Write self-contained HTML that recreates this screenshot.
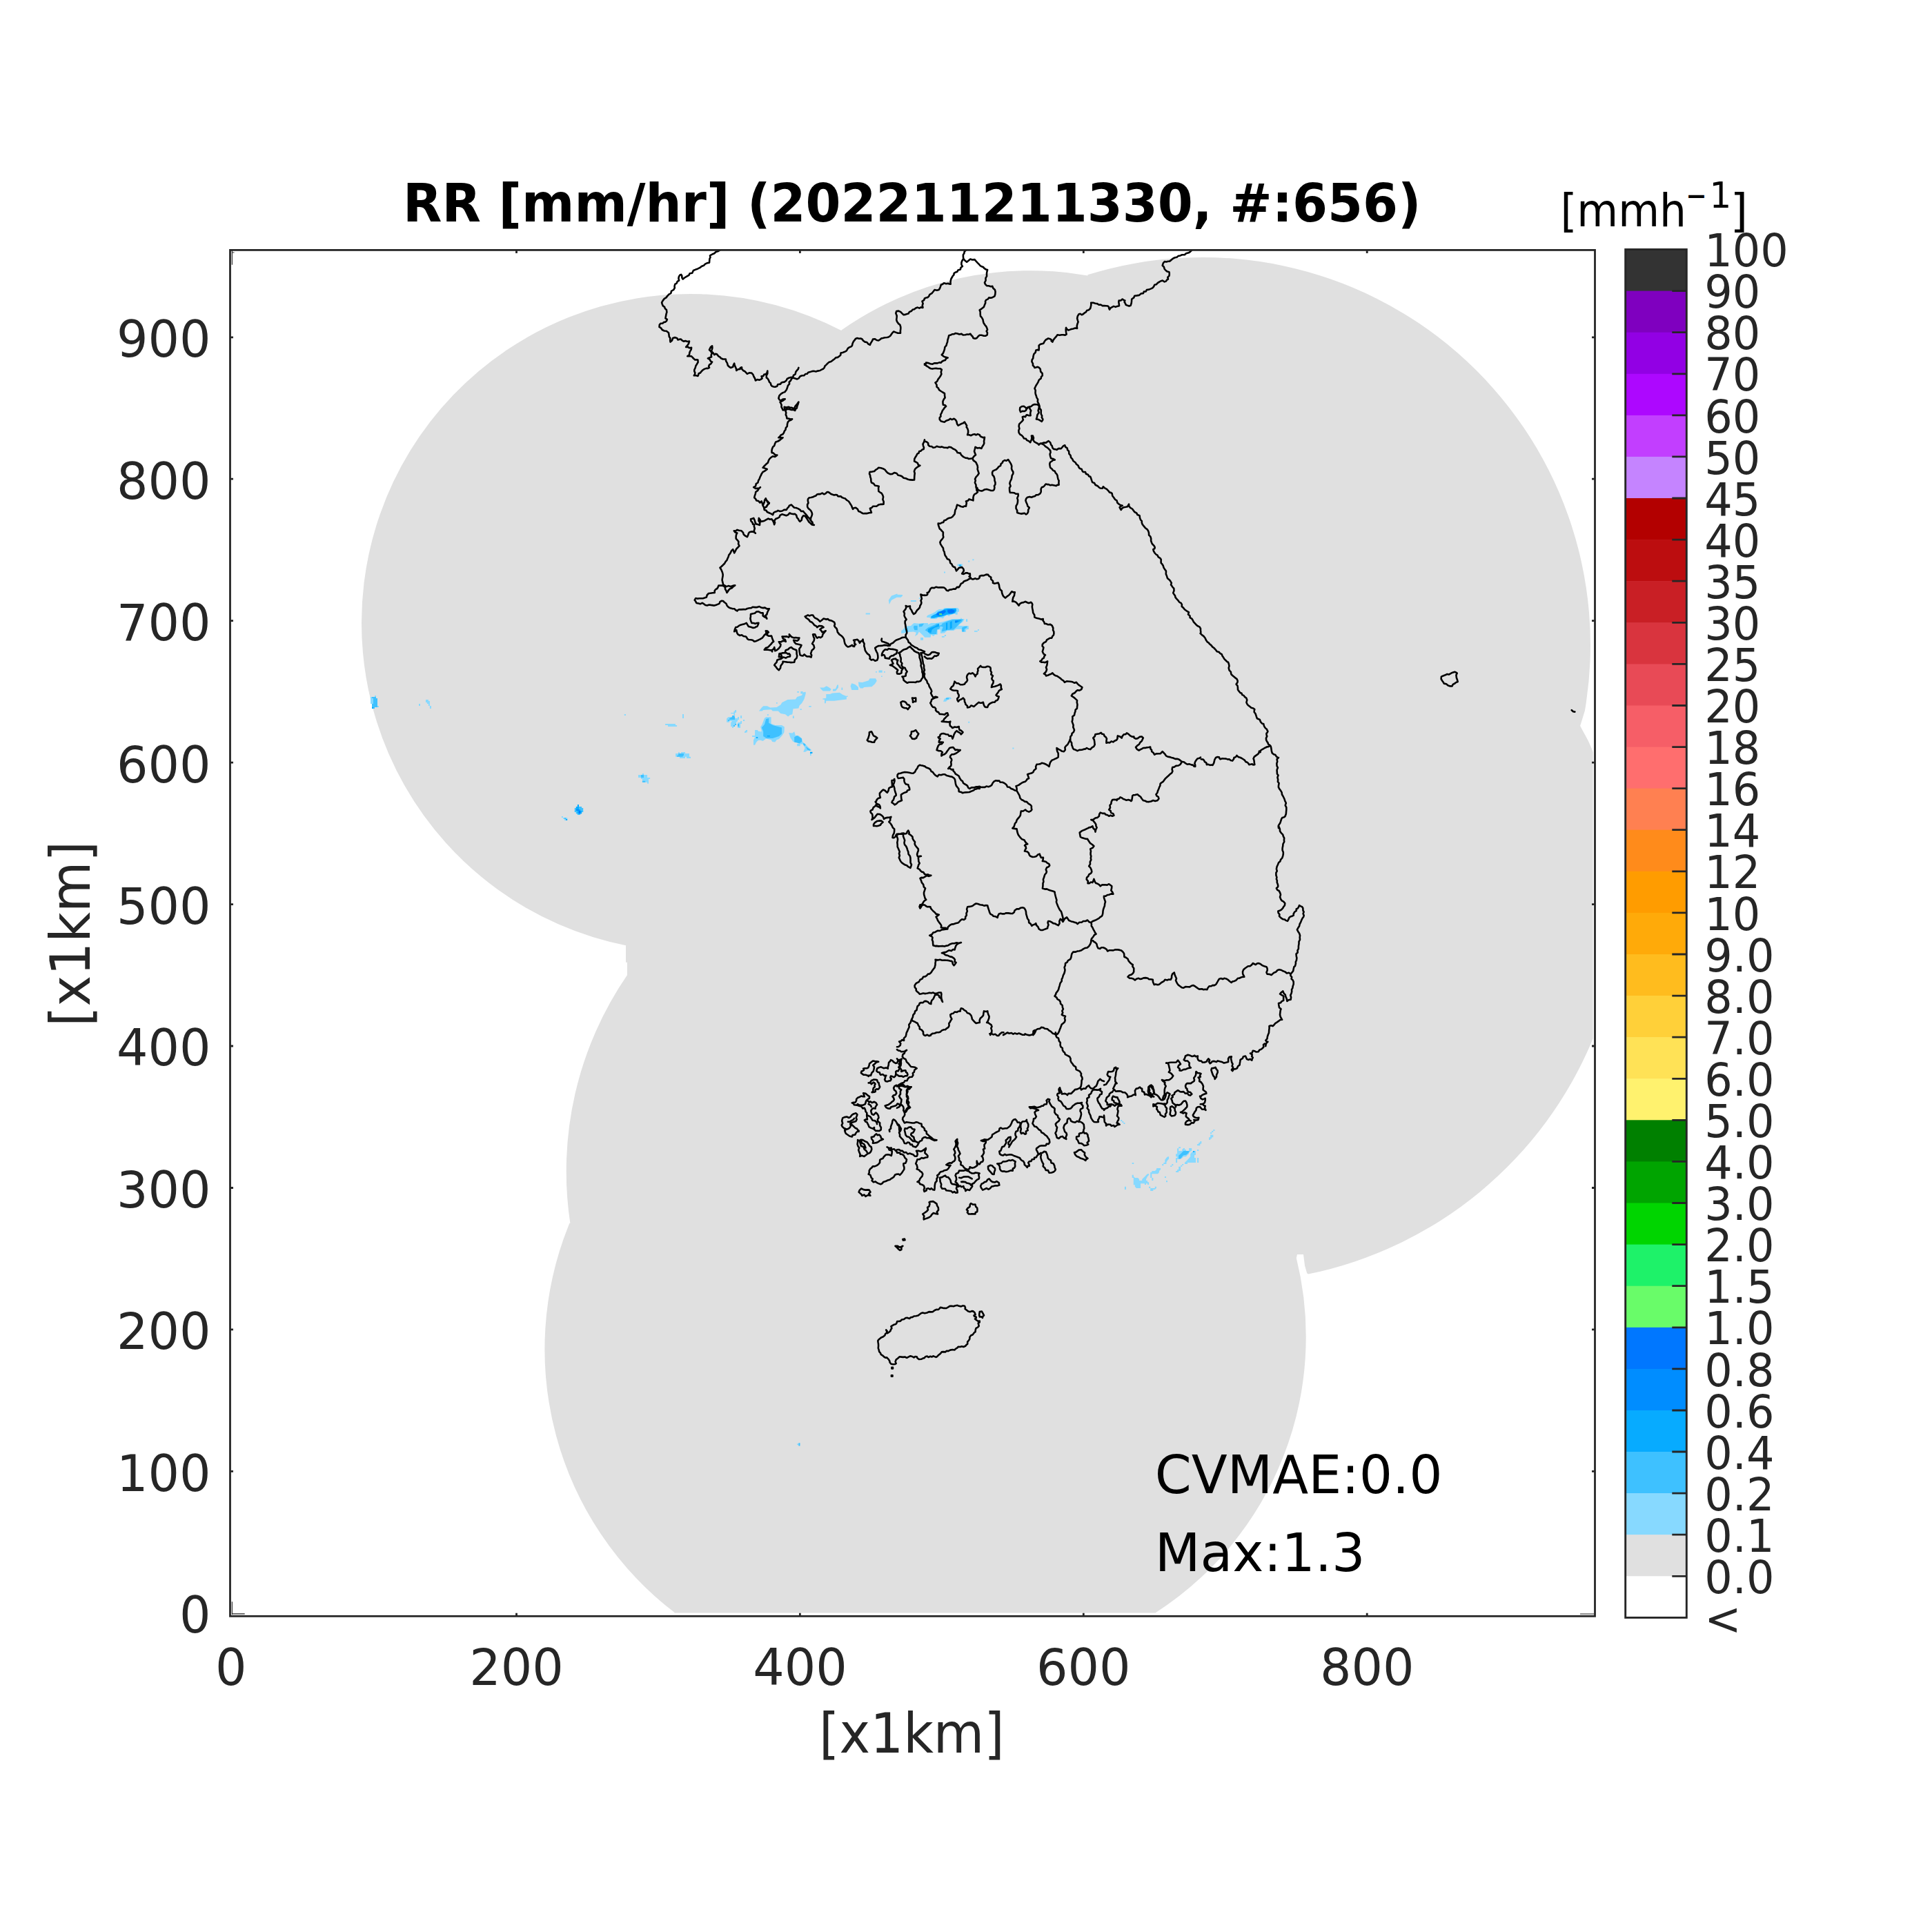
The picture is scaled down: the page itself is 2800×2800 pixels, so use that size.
<!DOCTYPE html>
<html lang="en"><head><meta charset="utf-8"><title>RR [mm/hr]</title>
<style>html,body{margin:0;padding:0;background:#fff}svg{display:block}</style></head>
<body>
<svg xmlns="http://www.w3.org/2000/svg" width="2800" height="2800" viewBox="0 0 2800 2800" font-family="'DejaVu Sans','Liberation Sans',sans-serif">
<path d="M907.2 1370.3A476.8 476.8 0 0 1 586.6 1139A476.8 476.8 0 0 1 550.8 745.2A476.8 476.8 0 0 1 824.4 459.8A476.8 476.8 0 0 1 1219.3 479L1220.1 478A477.4 477.4 0 0 1 1576.8 399.5L1576.2 398.3A562 562 0 0 1 2113.4 512.3A562 562 0 0 1 2296.9 1030L2290.1 1052Q2294 1059.5 2298.9 1068.2T2308.7 1089.9V1505.4L2308.6 1505.4A570 570 0 0 1 1896 1846.5L1894.2 1845.2 1891 1834.3 1889 1818H1880L1878.9 1822.7L1878.7 1822.7A475.9 475.9 0 0 1 1859.1 2113.1A475.9 475.9 0 0 1 1674.1 2337.7L1674 2337.6H977.2L977.6 2337.1A481.1 481.1 0 0 1 806 2080.7A481.1 481.1 0 0 1 825.4 1772.8L826.4 1772.9A503 503 0 0 1 909.1 1412.9L909 1412.9V1394.7H907V1371.3Z" fill="#e0e0e0"/>
<path d="M1343.1 893.3L1344.9 891.4 1350.7 889.3 1355.1 887.1 1357.2 884.9 1360.9 883.1 1366.7 882.8 1368.8 880.9 1374.6 880.9 1376.8 881.3 1387.7 880.9 1389.9 882.8 1389.9 886.4 1387.7 887.1 1387.7 890.7 1385.5 890.7 1383.3 889.3 1376.8 891.4 1375.4 892.9 1372.5 891.4 1368.8 893.6 1366.7 896.5 1365.2 895.8 1359.4 895.1 1357.2 896.9 1349.3 896.9 1347.1 895.1 1343.1 894.7ZM1306.2 913.9L1308.7 912.5 1313 907.4 1320.3 907 1321.7 905.2 1324.6 903 1331.9 903.8 1336.2 903 1344.9 903 1344.9 905.2 1349.3 903 1356.5 903 1365.2 901.6 1373.9 899.1 1379.7 897.2 1392 896.9 1392.8 895.1 1394.2 896.9 1397.8 897.2 1395.7 900.9 1392 903.8 1389.1 906.7 1396.4 907 1403.6 907 1404 911.7 1400 912.5 1400 915.7 1394.2 915.7 1393.5 911.7 1385.5 911.7 1381.9 913.9 1372.5 913.9 1368.8 917.5 1363 917.9 1363 912.5 1358.7 912.5 1358.7 919.7 1355.1 919.7 1352.9 921.9 1349.3 919.7 1348.6 923.7 1340.2 923.7 1338 921.2 1334.1 917.5 1331.9 915.4 1329.7 919.7 1326.1 921.9 1327.9 916.8 1323.9 915.4 1316.7 916.1 1310.1 917.5 1306.2 917.9ZM1300 860.3L1300.7 861.7 1308 862.1 1308 863.6 1305.8 865.7 1300 865.7ZM1319.9 870.1L1327.9 870.1 1327.9 871.9 1319.9 871.9ZM1331.9 866.1L1333.7 866.1 1333.7 867.9 1331.9 867.9ZM1334.1 924.1L1338 924.1 1338 927.7 1334.1 927.7ZM1400 897.2L1402.2 897.2 1402.2 900.9 1400 900.9ZM1412 913.9L1416.7 913.9 1416.7 915.7 1412 915.7ZM1417 912.1L1418.8 912.1 1418.8 913.9 1417 913.9ZM1364.9 921.9L1368.8 921.9 1368.8 923.7 1364.9 923.7ZM1368.8 920.1L1371 920.1 1371 921.9 1368.8 921.9ZM1287.8 869.7L1292 863.5 1300.2 860.4 1300.2 865.6 1292 869.7 1288.8 876ZM1254.7 888.4L1260.9 888.4 1260.9 890.4 1254.7 890.4ZM1387.6 817.6L1394.9 817.6 1394.9 820.5 1387.6 820.5ZM1403.2 812.4L1405.3 812.4 1405.3 814.4 1403.2 814.4ZM1409.4 810.3L1411.4 810.3 1411.4 812.3 1409.4 812.3ZM1368 828.4L1370 828.4 1370 830.4 1368 830.4ZM1366.9 1016.7L1369 1012.6 1373.1 1010.5 1377.2 1010.5 1379.3 1012.6 1373.1 1014.6 1371 1016.7ZM1467.4 1083.6L1469.4 1083.6 1469.4 1085.6 1467.4 1085.6ZM1403.2 1045.7L1405.2 1045.7 1405.2 1047.7 1403.2 1047.7ZM1155.3 2092.3L1157.4 2092.3 1157.4 2094.3 1155.3 2094.3ZM1099.9 1030.6L1103.9 1025.5 1106.2 1023.2 1111.9 1023.2 1116.4 1025.5 1125.6 1024.9 1131.3 1021.5 1133.5 1018.1 1141.5 1014.1 1152.9 1013.5 1155.2 1010.1 1162 1007.8 1164.3 1003.3 1167.7 1002.7 1167.7 1005.6 1165.4 1013.5 1162 1019.2 1158.6 1022.6 1157.4 1026.6 1149.5 1027.2 1148.3 1035.2 1144.9 1036.3 1142.1 1038.6 1138.1 1035.2 1131.3 1034 1127.8 1030.6 1119.9 1030.6 1117.6 1028.3 1106.2 1028.9 1104.5 1030.6ZM1188.2 996.4L1193.9 996.4 1197.9 994.2 1201.9 996.4 1204.7 998.7 1203 1001.6 1192.8 1001.6 1189.9 998.7ZM1207 998.7L1211 998.2 1213.3 992.5 1215 992.5 1215 996.4 1211 1001.6 1207 1001.6ZM1192.2 1012.4L1197.3 1011.8 1197.3 1006.1 1203 1006.1 1206.4 1004.4 1216.7 1003.8 1221.2 1006.7 1226.9 1009 1226.9 1013.5 1208.7 1015.8 1197.3 1015.8 1196.7 1019.2 1195 1019.2 1195 1014.1 1192.2 1013.5ZM1232.6 994.2L1234.3 990.2 1239.5 991.9 1244 995.9 1244 999.9 1234.3 999.9ZM1244 988.5L1249.7 989 1258.8 986.2 1260.5 983.3 1269.1 983.3 1270.8 986.8 1267.9 991.3 1263.4 995.3 1252 995.9 1250.8 997.6 1246.9 997.6 1244.6 994.2ZM1273.6 971.4L1278.7 971.4 1278.7 974.8 1273.6 974.8ZM1269.1 973.1L1270.8 973.1 1270.8 974.8 1269.1 974.8ZM1281 973.1L1282.7 973.1 1282.7 974.8 1281 974.8ZM1277 979.4L1278.7 979.4 1278.7 981.1 1277 981.1ZM1172.3 1023L1175.7 1023 1175.7 1024.7 1172.3 1024.7ZM1159.7 1027.2L1161.8 1027.2 1161.8 1028.9 1159.7 1028.9ZM1125 1018.1L1126.7 1018.1 1126.7 1019.8 1125 1019.8ZM1111.9 1035.2L1113.9 1035.2 1113.9 1036.9 1111.9 1036.9ZM1148.9 1037.4L1150.8 1037.4 1150.8 1040.9 1148.9 1040.9ZM1219.5 996.4L1221.2 996.4 1221.2 999.9 1219.5 999.9ZM1226.9 1008.4L1228.6 1008.4 1228.6 1009.9 1226.9 1009.9ZM1155.2 1002.1L1158 1002.1 1158 1003.8 1155.2 1003.8ZM1160.3 1002.1L1163.7 1002.1 1163.7 1005.6 1160.3 1005.6ZM1090.3 1066.5L1094.2 1065.9 1094.2 1058.5 1097.7 1057.9 1100.5 1061.4 1103.9 1059.7 1102.2 1053.4 1104.5 1050 1107.9 1040.9 1110.2 1039.2 1117.6 1039.2 1117.6 1048.8 1123.3 1051.1 1133 1051.1 1136.9 1053.4 1136.4 1061.4 1133.5 1065.9 1129 1071 1125.6 1072.2 1123.3 1075.6 1119.3 1075 1117.6 1072.2 1110.2 1070.5 1105.6 1073.9 1102.2 1072.8 1097.1 1072.8 1094.2 1075 1093.7 1079.6 1092 1079.6 1092 1072.8 1094.2 1068.2 1090.3 1067.6ZM1143.2 1061.9L1148.3 1062.5 1151.2 1060.2 1152.9 1065.9 1157.4 1065.9 1162 1069.9 1163.7 1076.2 1167.7 1079 1171.1 1082.4 1175.7 1086.4 1175.7 1088.1 1170 1088.1 1167.1 1089.8 1164.3 1089.8 1166.6 1084.1 1163.7 1078.5 1158.6 1078.5 1155.2 1076.2 1149.5 1075 1145.5 1069.3ZM1155.2 1077.9L1159.7 1077.9 1159.7 1081.3 1155.2 1081.3ZM1174 1092.1L1175.7 1092.1 1175.7 1095 1174 1095ZM1080 1059.1L1082.8 1059.1 1082.8 1061.4 1080 1061.4ZM904.8 1035L907 1035 907 1037 904.8 1037ZM989 1035L991 1035 991 1041 989 1041ZM964.1 1049L978.9 1049 978.9 1050.9 981.1 1050.9 981.1 1053 968 1053 968 1050.9 964.1 1050.9ZM1053.1 1041.6L1055.4 1039.3 1061.1 1038.7 1063.4 1037 1063.4 1034.2 1059.2 1034.2 1059.2 1033 1063.4 1033 1063.4 1030.8 1065.1 1030.8 1065.1 1029 1067.1 1029 1067.1 1032.5 1065.1 1033 1065.1 1041 1069.1 1041 1069.1 1039 1071.1 1039 1071.1 1043.1 1069.1 1043.1 1069.1 1045 1067.1 1046.7 1067.1 1049 1065.1 1051.3 1063.4 1053 1062.8 1054.9 1061.1 1054.9 1061.1 1053 1059.2 1053 1059.2 1047.3 1061.1 1045 1057.1 1045 1057.1 1046.7 1053.1 1046.7ZM1069.1 1047.3L1073.1 1046.9 1073.1 1045 1075.1 1045 1075.1 1049 1073.1 1049 1073.1 1054.9 1069.1 1054.9ZM1073.1 1037L1075.1 1037 1075.1 1041 1073.1 1041ZM1077 1043.1L1079.1 1043.1 1079.1 1045 1077 1045ZM1079.1 1060.1L1081 1060.1 1081 1062.1 1079.1 1062.1ZM1081 1058.1L1083.1 1058.1 1083.1 1060.1 1081 1060.1ZM1090.1 1066.1L1094.1 1066.1 1094.1 1058.1 1098.1 1058.1 1098.1 1060.1 1102.1 1060.1 1102.1 1071.8 1098.1 1073.5 1096.1 1075.7 1094.1 1079.7 1092.1 1079.7 1092.1 1071.8 1094.1 1071.8 1094.1 1068 1090.1 1068ZM979.1 1092L983.1 1092 983.1 1090 984.8 1090 984.8 1091.7 987.1 1091.7 987.1 1090 993 1090 993 1092 999 1092 999 1096.8 1001 1096.8 1001 1098.9 995 1098.9 995 1096.8 993 1096.8 993 1098.9 985 1098.9 985 1096.8 979.1 1096.8ZM925 1123L930.9 1123 930.9 1121 933 1121 933 1123 938.1 1123 938.1 1127 942.1 1127 942.1 1128.9 940 1128.9 940 1135.8 938.1 1135.8 938.1 1133.8 930.9 1133.8 930.9 1128.9 929 1128.9 929 1127 925 1127ZM832.8 1175L834.9 1175 834.9 1177.1 832.8 1177.1ZM843.1 1175L845.2 1175 845.2 1177.1 843.1 1177.1ZM834.9 1177.1L836.9 1177.1 836.9 1179.2 834.9 1179.2ZM813.9 1182.9L816 1182.9 816 1184.9 813.9 1184.9ZM816 1185L818 1185 818 1186.9 816 1186.9ZM820.1 1185L822.2 1185 822.2 1186.9 820.1 1186.9ZM818 1186.9L820.1 1186.9 820.1 1189 818 1189ZM537 1010.1L541 1010.1 541 1019.9 537 1019.9ZM543 1008.1L545 1008.1 545 1010.1 543 1010.1ZM547 1023L549 1023 549 1024.9 547 1024.9ZM541 1024.9L543 1024.9 543 1027 541 1027ZM617 1013.9L620.9 1013.9 620.9 1015.9 622.9 1015.9 622.9 1023 620.9 1023 620.9 1019.9 618.9 1019.9 618.9 1017.9 617 1017.9ZM622.9 1023L624.9 1023 624.9 1027 622.9 1027ZM607 1019.9L609 1019.9 609 1023 607 1023ZM1640.7 1702.8L1642.8 1702.8 1642.8 1704.9 1644.8 1707 1649 1707 1651.1 1709 1651.1 1711.1 1655.2 1711.1 1655.2 1709 1659.3 1704.9 1661.4 1702.8 1663.1 1701.2 1665.1 1701.2 1665.1 1702.8 1663.1 1704.9 1661 1709 1661 1711.1 1663.1 1711.1 1663.1 1713.2 1665.1 1713.2 1665.1 1716.9 1663.1 1716.9 1663.1 1715.2 1661 1715.2 1661 1716.9 1658.9 1716.9 1658.9 1715.2 1653.1 1715.2 1653.1 1721.9 1646.9 1721.9 1644.8 1719.8 1644.8 1717.3 1642.8 1717.3 1642.8 1707 1640.7 1707ZM1667.2 1699.1L1669.3 1699.1 1669.3 1697 1673.8 1697 1675.9 1694.9 1676.3 1692.9 1682.1 1692.9 1682.1 1694.9 1680 1697 1680 1699.1 1678 1701.2 1669.3 1701.2 1669.3 1707 1667.2 1707ZM1669.3 1707L1671.3 1707 1671.3 1711.1 1669.3 1711.1ZM1684.2 1687.1L1686.3 1687.1 1686.3 1685 1688.3 1685 1688.3 1680.9 1690.4 1678 1692.5 1676.3 1694.1 1676.3 1694.1 1679.6 1692 1681.7 1690.4 1684.6 1690.4 1687.1 1686.3 1687.1 1686.3 1689.2 1684.2 1689.2ZM1704.1 1672.2L1706.1 1672.2 1706.1 1664.3 1708.2 1664.3 1708.2 1662.2 1711.1 1662.2 1711.1 1663.9 1708.2 1664.3 1708.2 1668 1713.2 1668 1713.2 1666 1715.2 1663.9 1716.9 1663.9 1716.9 1666 1719 1666 1719 1668 1723.1 1668 1723.1 1663.9 1727.2 1663.9 1727.2 1668 1725.2 1668 1725.2 1670.1 1723.1 1670.1 1723.1 1672.2 1721 1673.8 1719 1676.3 1715.2 1676.3 1713.2 1678.4 1708.2 1680 1706.1 1680 1706.1 1685 1704.1 1685 1704.1 1678 1706.1 1678 1706.1 1676.3 1704.1 1676.3ZM1716.9 1685L1719 1682.9 1721 1680.9 1723.1 1678.8 1725.2 1676.3 1725.2 1672.2 1727.2 1670.1 1729.3 1668 1733 1668 1733 1673.8 1731 1674.2 1731 1678 1733 1678 1733 1685 1721 1685 1721 1687.1 1716.9 1687.1ZM1735.1 1678L1737.2 1678 1737.2 1685 1735.1 1685ZM1704.1 1697L1706.1 1697 1706.1 1694.9 1708.2 1694.9 1708.2 1690.8 1711.1 1690.8 1711.1 1697 1708.2 1697 1708.2 1699.1 1704.1 1699.1ZM1711.1 1688.7L1713.2 1688.7 1713.2 1690.8 1711.1 1690.8ZM1713.2 1687.1L1715.2 1687.1 1715.2 1688.7 1713.2 1688.7ZM1696.2 1689.2L1698.3 1689.2 1698.3 1691.1 1696.2 1691.1ZM1698.3 1687.1L1700.3 1687.1 1700.3 1689.2 1698.3 1689.2ZM1735.1 1658.1L1737.2 1658.1 1737.2 1656 1739.3 1656 1739.3 1654 1741.3 1654 1741.3 1657.3 1739.3 1658.1 1739.3 1660.2 1735.1 1660.2ZM1752.1 1648.2L1754.2 1648.2 1754.2 1644.8 1758.3 1644.8 1758.3 1648.2 1756.2 1648.2 1756.2 1650.2 1754.2 1650.2 1754.2 1651.9 1752.1 1651.9ZM1754.2 1641.1L1756.2 1641.1 1756.2 1643.2 1754.2 1643.2ZM1756.2 1639L1758.3 1639 1758.3 1641.1 1756.2 1641.1ZM1758.3 1637L1760.4 1637 1760.4 1639 1758.3 1639ZM1735.1 1666L1737.2 1666 1737.2 1668 1735.1 1668ZM1640.7 1685L1643.2 1685 1643.2 1687.1 1640.7 1687.1ZM1629.9 1719.8L1632 1719.8 1632 1723.9 1629.9 1723.9ZM1665.1 1719.8L1667.2 1719.8 1667.2 1721.9 1665.1 1721.9ZM1667.2 1721.9L1673.8 1721.9 1673.8 1719.8 1675.9 1719.8 1675.9 1721.9 1673.8 1723.9 1671.3 1723.9 1671.3 1726 1667.2 1726ZM1687.9 1704.9L1690 1704.9 1690 1707 1687.9 1707ZM1690 1711.1L1692 1711.1 1692 1713.2 1690 1713.2ZM1624.1 1622.9L1626.2 1622.9 1626.2 1625 1624.1 1625ZM1626.2 1625L1628.3 1625 1628.3 1627 1626.2 1627ZM1628.3 1627L1630.4 1627 1630.4 1629.1 1628.3 1629.1Z" fill="#87d9ff"/>
<path d="M1365.2 903.8L1373.9 900.1 1380.4 898 1395.7 897.6 1393.5 901.6 1389.9 904.5 1385.5 909.6 1381.9 912.5 1372.5 913.2 1365.2 915.4 1365.2 912.5 1366.7 908.8 1363 907.4 1360.9 911.7 1358 912.5 1357.2 919 1347.8 919 1344.9 916.1 1340.6 913.2 1344.9 909.6 1350 907.4 1355.1 905.2 1357.2 903.8 1360.9 903.8 1361.6 906.7 1365.2 905.2ZM1323.9 909.6L1324.6 906.7 1329.7 906.7 1329.7 913.2 1325.4 913.2ZM1331.9 904.5L1339.1 903.8 1336.2 908.1 1331.9 908.5ZM1394.2 909.6L1397.8 908.1 1401.4 907.4 1401.4 909.6 1397.8 911.7 1397.8 915.4 1394.2 915.4ZM1311.6 911.7L1315.6 909.6 1315.6 916.1 1312 915.4ZM1371 1011.5L1375 1011.5 1375 1013.6 1371 1013.6ZM1157.4 2091.3L1159.5 2091.3 1159.5 2095.4 1157.4 2095.4ZM1103.9 1054.5L1107.9 1050 1110.2 1042 1114.2 1040.9 1114.2 1047.7 1119.9 1051.1 1133 1054.5 1133 1063.6 1129 1067.1 1119.9 1069.9 1110.8 1069.9 1106.2 1067.1 1106.2 1060.2ZM1151.2 1068.2L1155.2 1065.9 1162 1070.5 1162 1075 1158.6 1077.3 1151.2 1075.6ZM1164.3 1076.2L1167.7 1079 1166.6 1081.3 1164.3 1079.6ZM1167.7 1081.9L1174.5 1086.4 1174 1088.1 1170 1086.4ZM1057.1 1041L1061.1 1039.3 1061.1 1037 1063.4 1037 1065.1 1039.3 1065.1 1043.1 1057.1 1043.1ZM1055.1 1043.1L1057.1 1043.1 1057.1 1045 1055.1 1045ZM1065.1 1049L1067.1 1049 1067.1 1050.9 1065.1 1050.9ZM1063 1050.9L1065.1 1050.9 1065.1 1053 1063 1053ZM1069.1 1049L1071.1 1049 1071.1 1053 1069.1 1053ZM1096.1 1068L1098.1 1068 1098.1 1070 1096.1 1070ZM983.1 1092L991 1092 991 1094.5 989.1 1096.8 981.1 1096.8 981.1 1095.1 983.1 1094.5ZM929 1123L933 1123 933 1127 929 1127ZM930.9 1131.8L935.2 1131.8 935.2 1133.8 930.9 1133.8ZM836.9 1166L839 1166 839 1169.1 843.1 1169.1 843.1 1171.1 845.2 1171.1 845.2 1177.1 843.1 1177.1 843.1 1179.2 841.1 1179.2 841.1 1181 836.9 1181 836.9 1179.2 834.9 1179.2 834.9 1177.1 832.8 1177.1 832.8 1171.1 834.9 1171.1 834.9 1169.1 836.9 1169.1ZM818 1185L820.1 1185 820.1 1186.9 818 1186.9ZM539 1010.1L545 1010.1 545 1011.9 547 1011.9 547 1024.9 543 1024.9 543 1027 539 1027 539 1019.9 541 1019.9 541 1011.9 539 1011.9ZM1708.2 1674.7L1711.1 1672.2 1713.2 1670.1 1715.2 1668 1723.1 1668 1723.1 1670.1 1721 1672.2 1719 1673.8 1715.2 1674.2 1713.2 1676.3 1711.1 1679.6 1708.2 1679.6Z" fill="#3ec1ff"/>
<path d="M1349.3 893.6L1352.2 891.4 1357.2 889.3 1359.4 886.4 1365.2 884.9 1368.8 882.8 1372.5 882 1385.5 881.7 1386.2 884.9 1384.1 888.6 1379.7 890 1372.5 890.7 1368.8 892.2 1365.2 893.6 1359.4 894.3 1353.6 895.8 1349.3 895.8ZM1344.9 911.7L1349.3 909.6 1355.1 907.4 1360.9 903.8 1360.9 908.1 1355.1 909.6 1350.7 912.5 1349.3 917.5 1344.9 916.1ZM1371 903L1373.2 902.3 1373.2 911.7 1371 913.2ZM1376.8 901.6L1379.7 900.1 1379.7 910.3 1376.8 911.7ZM1384.1 899.4L1393.5 898 1389.9 901.6 1384.1 903ZM1390 818.5L1393 818.5 1393 820.5 1390 820.5ZM1174 1089.8L1177.4 1089.8 1177.4 1092.1 1174 1092.1ZM1111.9 1065.9L1115.9 1065.9 1115.9 1067.6 1111.9 1067.6ZM1095.9 1068.2L1098.2 1068.2 1098.2 1069.9 1095.9 1069.9ZM836.9 1166L839 1166 839 1173 841.1 1173 841.1 1175 843.1 1175 843.1 1179.2 836.9 1179.2 836.9 1175 834.9 1175 834.9 1169.1 836.9 1169.1ZM820.1 1186.9L822.2 1186.9 822.2 1189 820.1 1189ZM539 1024.9L541 1024.9 541 1027 539 1027ZM1729.3 1668L1731 1668 1731 1670.1 1729.3 1670.1Z" fill="#07abff"/>
<path d="M1384.1 899.4L1389.1 899.1 1387 902.3 1384.1 902.3ZM834.9 1173L839 1173 839 1175 834.9 1175Z" fill="#008dff"/>
<path d="M1357.2 889.3L1361.6 887.1 1365.2 885.3 1369.6 884.2 1371 886.4 1368.1 889.3 1365.2 890.7 1360.9 892.2 1357.2 891.4ZM1373.2 883.5L1379.7 883.1 1384.1 884.9 1381.9 888.2 1375.4 888.9 1373.2 887.1ZM839 1175L841.1 1175 841.1 1179.2 839 1179.2Z" fill="#0077ff"/>
<path d="M1361.1 889.1L1365 889.1 1365 890.9 1361.1 890.9Z" fill="#69fc69"/>
<path d="M1043.5 362.5L1041.1 364 1037.6 365 1035.2 367.3 1032.2 368.5 1029 370.4 1029.5 372.9 1028.4 375.2 1028.2 378 1028 380.7 1025.1 381.1 1022 382.6 1019.9 384.8 1016.8 385.9 1014.5 387.9 1010.9 389.7 1008.3 390.6 1004.9 392 1003.2 395.7 999.7 396.2 998.4 398.8 994.8 400.9 992.1 402.5 989.7 404.5 988.4 402.5 988.3 399.6 987.2 397.9 985.5 398.5 984.1 400.4 983.4 403.2 984.1 406.6 981.7 407.9 980.6 410.6 978.3 411.8 977.5 415 977.9 417.2 976.2 420 973 421.9 972.3 425 969.4 426.7 966.9 429.4 965.4 431.4 962.8 432.9 960.7 435.6 959.1 438.4 959.7 440.7 960.9 443.4 963.1 444.9 963.9 447.3 965.9 449 966.4 452.4 965.5 455.4 964.9 458.8 964.4 461.4 966.9 462.9 966 465.3 964.4 466.6 962 467 960.4 468.7 957.6 468.7 955.8 470.7 955.5 473.9 957.9 475.3 959.7 478 962.8 479.5 965.8 479.7 969 482.2 969.4 484.5 969.8 487.9 971.3 490.1 971.2 493.2 971.5 495.6 974 493.4 975.2 490 977.6 489.1 979.3 489.4 981.4 490.2 982.4 492.5 984.2 491.9 986.6 491.5 988.5 493.3 990.7 494.6 993.4 494.1 996.1 495 999 494.6 998.2 497.7 996.3 500.5 994.2 502.9 996.6 502.6 999.2 504.3 1002.1 503.9 1001.7 506.6 1000.1 509.1 999.3 511.3 999 514.2 996.3 516.3 999.1 516.2 1002.1 516.3 1003.9 518.1 1005.1 519.6 1007.3 521.5 1009.6 521.2 1011.4 521.5 1011.6 525 1010 527.7 1008.4 530.2 1007.7 533 1006.3 536 1006.3 538.1 1007.3 540.1 1007.2 541.9 1005.8 544.3 1009.1 544.3 1011.4 544.9 1012.3 543 1012.5 541.2 1014.7 540.6 1016.5 538.4 1018.3 536.5 1020.7 534.9 1023.5 533.9 1026 533.9 1028 532.9 1027.1 531 1028 528.7 1030.1 527.4 1032.1 524.6 1030 523.6 1028.6 520.8 1025.9 519.4 1028 518.4 1031.1 517.3 1030.6 514.7 1031.7 512.2 1030.4 509.4 1028 507 1028.8 505.3 1029.9 503.1 1032.1 501.4 1032.4 504.1 1031.7 507 1031.1 509.1 1033.7 511.7 1035.2 514.2 1036.9 512.9 1039 513.2 1040.2 514.9 1041.4 516.3 1043.6 517.6 1045 519.3 1047.7 520.5 1049.8 520.5 1051.8 520.5 1052.2 523.4 1053.9 526.2 1054.9 529.8 1057.1 531.8 1059 532.9 1062.2 531.8 1063 528.9 1064.2 526.7 1064.6 528.9 1065.7 531.4 1067 534.6 1067.3 537 1069.7 535.3 1072.5 534.9 1072.8 533.3 1075 532.3 1075 534.6 1077.1 537 1079.7 538.4 1080.9 539.7 1082.9 541.8 1085.8 540.4 1089.1 540.5 1091.2 542.6 1092.6 546 1094.1 548.5 1094.9 551.5 1097.6 550.1 1100.4 550.8 1102.5 549.9 1104.6 548.4 1103.6 545.3 1106.1 545 1107.6 542.5 1109.8 542.2 1111.4 540.7 1112.3 537.6 1112.3 541.3 1110.8 544.1 1110.8 547.4 1112.7 548.8 1114.3 551.6 1114.9 553.6 1116.7 555.2 1117.5 558.1 1119.1 559.8 1121.3 560.5 1123.2 560.8 1126.3 559.7 1127.1 557.3 1131 556.6 1132.5 554.6 1134.5 553.9 1136.7 553.6 1139.3 551.8 1140.8 549 1143.9 547.4 1146.6 546.8 1149.1 547M1149.1 547L1150 543.8 1152.6 542.3 1153.3 539.1 1154.8 537 1156.6 535.2 1157.4 532.9M1149.1 547.4L1152.4 548.5 1155.3 549.4 1157.4 548.4 1159.7 545.3 1162.6 544.3 1165.4 544.1 1167.3 542 1169.8 541.8 1171.3 539.7 1174 539.1 1176.8 538.1 1179.3 537.8 1182.5 538.5 1185.1 537.6 1188.4 537 1190.8 535.6 1192.8 534.8 1194.7 532.9 1195.5 530.5 1197 529.1 1198.8 527.3 1201.2 525.1 1204.4 524.1 1207.1 521.9 1209.5 520.2 1211.2 518.4 1214.1 517.9 1216.4 516.3 1218.3 514.3 1218.5 511.6 1221.2 510.9 1223.6 510.1 1226.2 508.9 1227.4 507.5 1228.8 504.9 1231 503.3 1233.5 502.4 1235 500.8 1235.6 497.7 1237.1 494.6 1238.6 493 1239.9 491 1242.3 490 1244.9 490.8 1247.3 490.5 1249.5 491.5 1251 493.7 1253.7 495.6 1256.3 496 1258.7 498.9 1260.9 499.8 1261.7 497.7 1263 495.6 1264.2 493.8 1265.1 491.5 1267.8 491.2 1270.5 493 1273.3 493.5 1275.2 492.2 1277.3 490.4 1279.5 490 1282.4 489.2 1285.5 489 1287.8 488.4 1290.1 487 1292 484.2 1293.1 482.7 1295.1 480.5 1298 481.6 1301.2 482.8 1305 482.6 1304.9 479.6 1305.3 476.5 1305.3 473.9 1304.4 470.8 1302.2 469.1 1300.1 466.3 1299.2 463.5 1299.6 460.2 1299.8 457.7 1298.3 454 1299.2 451.1 1302.3 450.6 1305.4 452.1 1307.5 454.4 1309.6 456.3 1312.1 455.9 1313.7 455.2 1316.5 454.6 1317.9 452.1 1321 450.7 1322.6 448.7 1325 448.3 1327.2 446.5 1329.9 445.6 1332.4 446.6 1334.6 445.4 1337.5 445.9 1336.7 442.5 1337.7 440.1 1336.5 436.6 1339.2 434.8 1340 432.5M1149.1 547.4L1147.2 548.9 1146 551.5 1143.7 553.7 1144.1 556.3 1141.9 558.8 1141 562 1139.8 565 1137.4 568.1 1134.6 569.1 1131.8 570.9 1129.4 573.3 1129 574.9 1128.4 577.4 1129.8 579.5 1131.5 580.5 1134.6 578.5 1137.7 578.4 1135.1 580.3 1133.3 581.3 1130.5 582.6 1131.7 584.7 1132.6 586.8 1132.5 589.8 1133.7 592.1 1134.6 594.4 1136.3 594.3 1138.8 594 1137 592.6 1136.7 589.8 1139.4 590.6 1142.9 589.8 1144.9 590.7 1147 590.8 1149.5 591.7 1151.2 591.9 1152.4 588.9 1154.3 586.7 1155.8 584.8 1157.4 582.6 1156.6 585.5 1155.3 588.8 1154.8 591.6 1153.1 592.5 1152.2 595 1150.1 593.9 1147 594 1144.6 593.3 1142.4 592.7 1139.8 592.9 1138.5 595.8 1139.3 598.1 1138.8 601.2 1139.9 603.3 1140.4 606.4 1143.3 606.8 1145.6 607.6 1148.1 607.4 1146.3 608.8 1143.5 609.8 1141.9 611.6 1141 614.7 1140.8 617.8 1138.9 620 1138.5 622.7 1136.7 625 1136.1 627.1 1134.6 629.2 1131.9 630.4 1130.4 632.4 1128.4 634.3 1131.1 634.3 1134.6 634.3 1132.2 636.1 1130 638 1127.4 639.5 1124.4 640.5 1123.2 642.6 1122.2 646 1120.1 647.8 1118.9 650.7 1118.5 652.9 1118.5 656.1 1120.8 656.5 1122.2 658.1 1123.7 659.3 1126.3 659.6 1123.2 661.9 1120 661.2 1117 663.3 1115.2 665.2 1113.9 667.4 1112.9 670.6 1111.1 672 1109.4 673.7 1107.5 675.5 1105.6 677.8 1108.4 678.6 1111.8 679.9 1110.2 681.3 1107.9 682.9 1105.6 684 1103.9 686.4 1102.7 689.1 1101.5 691.3 1100.7 693.8 1099.1 696.5 1098.4 699.5 1095.8 701.1 1095.1 704.5 1092.2 706.2 1095 707.9 1098.4 707.8 1100.3 707.6 1101.9 706.2 1099.8 708 1098.2 710.9 1095.3 713 1094.8 715.6 1093.8 718.6 1093.2 721.3 1095 722.9 1096.3 725.4 1099.1 726 1101.5 728.5 1103.6 726.5 1104.9 729.9 1105.6 732.7 1107.2 735.5 1107.7 738.9 1110.4 739.7 1111.8 742 1114.5 743.2 1117.3 744.4 1120.1 746.1 1121.2 743 1122.9 742 1125.9 741.1 1127.4 739.9 1130.3 741 1133.6 740.5 1136.7 738.7 1139.8 738.9 1141.1 736.7 1143 734.7 1143.9 732.7 1147 731.6 1149 733.7 1151.2 735.8 1153.8 736 1156.6 737.1 1159.5 738.9 1161.1 741 1164 740.8 1165.7 743 1167.7 745.2 1169.3 747.1 1170.8 749.2 1173.2 751.4 1175 754.4 1177.4 757 1178.1 760M1105.6 732.7L1106.7 729.9 1107.7 727.9 1108.2 724.9 1109.8 722.3 1110.2 724.5 1111.8 726.5 1113 728.6 1114.9 728.9 1113.2 730.7 1112 732.5 1110.8 734.7M1175 754.4L1175 750.8 1176.4 747.7 1177.1 745.1 1176.4 742.3 1175 739.9 1173.2 738.2 1171.5 736.9 1170.2 734.7 1170.1 731.3 1171.5 729 1170.8 725.4 1171 723.1 1172.9 721.3 1175.4 721 1178.3 720.3 1180.2 719.2 1182.5 718.4 1184.1 716.5 1186.4 716.1 1188.7 716.1 1191.6 714.6 1194.4 716.3 1196.7 715.1 1198.3 713.3 1199.8 713 1202 714 1204 715.7 1206.6 716.8 1209 717.6 1211.2 717.1 1213.1 717.2 1214.3 719.2 1216.1 719.4 1218.5 719.2 1220.4 721 1222.8 721.9 1224.7 722.3 1227.4 725 1229.9 726.5 1231.1 728.2 1232.8 731 1234 732.7 1234.8 735.2 1236.1 737.8 1237.5 736.3 1240.2 735.8 1243 738.1 1244.3 741 1246.5 741.7 1248.5 743 1251 744.3 1253.8 744 1256.8 744.1 1259.8 743.3 1263 743 1262 740.3 1260.9 736.8 1263.2 736 1265.1 733.8 1267.1 733.7 1270.3 733.7 1273.3 731.6 1276 730.9 1278.2 730.9 1280.6 730.6 1280.7 726.9 1279.4 723.9 1280.1 720.1 1279.1 717.1 1277.5 714.7 1275.8 713.8 1273.3 712 1273.2 709.3 1273.1 707.5 1273.7 704.7 1270.7 704 1268.2 703.7 1266 700.7 1263 699.5 1262.4 697.3 1262.2 693.6 1261.3 691.3 1261.1 688.8 1260 686.7 1260.5 684 1264.1 683.6 1267.1 683 1269.2 680.8 1271.4 679.6 1273.3 677.8 1276.8 678.3 1279.7 679.2 1282.7 680.9 1284.8 683.8 1286.7 685.5 1289.9 687.1 1293.2 686.9 1296.1 685.1 1299.5 686 1301.6 688.8 1304.4 689.2 1307 690.2 1309.7 692.8 1312.7 693.3 1315.9 694.7 1318.9 695.4 1322.3 695.6 1325.1 695.4 1325.2 691.9 1325.4 688.7 1325.8 686 1324.9 683.1 1326.1 679.9 1327.9 678.1 1330.5 676.3 1333.4 674.7 1331 673.9 1329.9 671.2 1327 669.4 1325.1 668.5 1325.3 665.2 1326.4 663 1328.2 660.2 1329.5 657.6 1331.4 656.8 1332.3 654 1334.3 653.7 1336.8 651.4 1338.6 650.9 1339 648.8 1338 646.1 1337.5 643.6 1339.2 640.3 1340 637.4M1340 432.5L1342.5 431.3 1344.2 431.3 1346.2 429.4 1347.4 426.9 1350.4 425.2 1352.6 422.5 1354.5 420 1357.8 420.8 1360.7 420 1362.1 417.7 1363 415.4 1363.8 412.8 1366.3 411.7 1368 410.3 1371.2 411.2 1374.2 410.7 1375.4 411.5 1377.7 411.8 1377.5 409.4 1377.7 407.2 1378.3 404.5 1379.7 402 1380.9 399.8 1382.4 398.3 1382.6 396.1 1384.5 394.8 1387.4 393.7 1388.5 391.4 1391.8 390.6 1392.6 387.7 1394.9 385.9 1393.4 383.6 1393.4 380.7 1394.3 378 1396.3 374.9 1395.9 372.2 1395.9 369.3 1397.3 367.3 1397.8 364.5 1400 362.5M1396.3 374.9L1398.1 377.2 1401.1 379.7 1403.3 377.9 1406.3 375.5 1409 376.5 1412.5 376.1 1414.2 378.1 1416.7 380.8 1418.7 382.8 1420.5 385 1422 385.9 1424.9 386.9 1426.2 388.6 1429 390.6 1431.1 391.1 1430.3 394.2 1430 396.8 1430.1 400.4 1428.5 402.9 1428.6 406.5 1427 409.7 1428.1 412.1 1430.1 414.2 1432.8 414.2 1435.9 415.2 1438.3 414.9 1439.4 417.7 1441.9 420 1442.6 422.8 1442.3 426.5 1441.4 429.4 1438.6 430.9 1436 431.8 1433.2 431.4 1431.7 433.6 1429.2 434.6 1428 436.6 1428.2 439.1 1426.7 442.6 1425.9 444.9 1424.1 446.3 1421.6 448.2 1419.7 449.4 1420.7 451.9 1420.7 455.2 1421 458.1 1422.8 460.2 1424.5 463.1 1424.9 465.6 1425.5 468 1427.3 470.8 1429.1 472.9 1430.1 474.9 1431.1 477.8 1429.7 479.9 1431 482.4 1430.7 485.3 1428.2 486.8 1425.9 486.7 1422.6 485.8 1419.7 485.7 1417.6 487.5 1415.6 490 1413.2 490.8 1410.4 490 1409.8 488 1407.8 486 1406.3 483.8 1404.1 484.7 1401.7 484.5 1399 485.3 1395.7 485.5 1393.5 483.9 1390.3 484.5 1387.6 483.6 1384.8 483 1382.7 484.1 1380.4 484.2 1377.7 485.6 1375.2 486.3 1374.6 488.9 1373.4 492.8 1373.1 495.6 1372.2 497.9 1371.5 500.6 1369.3 503.3 1369 506 1368.1 508.7 1366.9 511.8 1364.8 514.2 1367.6 516.6 1370 517.6 1373.7 518.4 1371 519.8 1370 521.9 1367.9 522.4 1365.1 524 1363.8 525.6 1361.3 525.4 1358.6 526.4 1356.6 526.3 1354 526.4 1351.6 527.7 1348.3 527.3 1345.5 526.1 1342.1 525.6 1341.8 527.4 1340 528.7M1340 527.3L1342.1 529.8 1344.5 531.3 1345.9 532.3 1348.3 533.9 1351.2 534.6 1354.2 534 1356.6 533.9 1359.3 534.3 1362.5 534.2 1364.8 535.6 1363.8 539.2 1364.4 542.2 1362.8 545.3 1361.4 547.4 1359.7 549.4 1358.1 552.8 1355.5 554.6 1357.5 557.6 1357.6 560.8 1359.9 562.6 1361.1 565.2 1363.8 567 1366.2 568.5 1369 570.1 1369.1 573.3 1369.6 576.4 1368 578.4 1366.5 581.5 1366.5 584.3 1366.9 586.7 1369.8 587.2 1371.1 588.8 1368.8 591 1367.5 593.1 1365.9 595 1364.8 598.1 1363.2 600.8 1363.5 603.4 1361.7 605.3 1361.8 607.9 1363.8 610.5 1366.8 611.2 1369 611.6 1371.3 609.7 1375 608.6 1377.3 606.8 1379.7 608.1 1382.6 606.8 1384.5 608 1386.3 610.8 1387.1 614.5 1388.7 616.7 1390.7 615.7 1393.4 614.1 1395.6 613.4 1398 611.6 1399.2 613.8 1401.1 616.7 1400.7 619 1402.3 621.3 1403.1 624 1403.1 627.1 1402.1 630.2 1404.6 630.2 1407.3 631.2 1409.7 629.8 1412.5 629.2 1414.5 630.4 1416.9 629.1 1419.7 630.2 1420.9 632.5 1422.8 633.3 1424.5 634.1 1427 633.7 1426.6 636.6 1426 639.4 1426.3 642.4 1425.3 644.7 1423.6 647.3 1422.4 649.9 1419.5 649 1416.6 649.5 1413.5 647.8 1412.9 650.5 1412 654 1412.8 656.4 1414.1 659.2 1412.3 660.6 1410.9 662.2 1409.4 664.3M1340 639.5L1343.1 640.5 1345.2 642.3 1345.2 644.8 1347.2 646.7 1350.5 647.1 1352.4 648.8 1355.4 648.2 1357.6 646.7 1359.9 647.5 1362.7 648.1 1364.8 647.4 1368.3 648.7 1371.1 648.8 1373.4 649.1 1375.2 647.8 1378.7 648.4 1381 650.3 1384.5 651.9 1386.6 654 1387.6 656.1 1390.1 656.6 1391.8 656.5 1392.7 658.9 1394.9 661.2 1396.7 662.4 1399.2 663.7 1402.1 663.9 1404 665 1406.5 664.7 1409.4 664.3 1410.5 667.1 1412.5 668.6 1414.4 670.1 1415.6 672.6 1416.6 674.8 1417 677.5 1416.6 679.9 1417.6 682.8 1418.7 686.1 1416.6 689.2 1414.5 691.3 1413 694.3 1413.8 696.4 1412.9 699.5 1414.5 702.8 1414.5 705.8 1416.2 707 1417.1 709.7 1419.7 710.9 1422.8 711.6 1424.9 710.7 1427 709.5 1430 709 1433.2 709.9 1436.2 711 1439.4 710.9 1440.8 709.6 1441.4 706.8 1441 704.3 1442.4 702.1 1442.5 699.5 1441.5 696.4 1441.4 693.7 1440.4 690.5 1438.3 688.2 1438 685 1439 682.6 1441.5 681.4 1443.7 680.5 1445.6 678.8 1447.4 676.4 1450.2 674.9 1450.5 672.6 1452.8 670.6 1453.5 668.5 1456 667 1458.6 667.8 1461.1 666 1462.6 668.2 1464 670.4 1465.3 672.6 1466.3 675.5 1466 678.8 1466.7 681.3 1468.4 684 1468.3 686.5 1466.7 689.2 1466.3 692.4 1465.6 694.9 1464.2 697.5 1463.3 700.7 1464.6 704.5 1463 707 1463.2 711.2 1463.8 714 1466.7 714 1469.5 714.2 1472.5 715.8 1475.6 715.7 1475.7 718.6 1474.2 722.1 1475.1 724.4 1474.9 727.9 1474.2 730.6 1472.6 733.2 1472.5 736.8 1474.1 739.6 1474.2 743 1477.3 744.1 1479.8 744.6 1482.9 744.1 1484.8 743.8 1487 745.5 1488.9 744.2 1490.1 742 1490.2 738.9 1491.8 735.8 1489.3 733.5 1488.7 731 1487.4 728.3 1486.4 725.4 1487.2 722.7 1489.1 720.7 1492.2 719.9 1494.9 720.8 1497.3 719.8 1500 719 1501.8 717.3 1504.6 717.1 1507.4 715.4 1508.7 713 1508.7 710.8 1508.6 708.8 1509.8 706.2 1512 705.6 1513.8 703.8 1515.6 701.6 1517.8 702.1 1519.9 702.1 1522.2 703.3 1524.5 702.8 1528.1 703.6 1530.5 704.1 1532.3 702.9 1534.6 702.7 1534.4 699.5 1534.6 696.4 1533.5 694.6 1532.8 691.2 1532.5 689.2 1531.5 687.1 1529.6 685.1 1528.8 683 1526.1 681.7 1524.7 679.8 1522.2 677.8 1521.7 675.4 1521.2 672.6 1521.9 670 1524.3 668.5 1525.9 667.1 1528.8 666.4 1526.1 665 1523.2 664.3 1522.1 661.1 1521.6 658.1 1522.6 655.8 1522.2 653 1519.9 650.6 1518.1 648.8 1515.2 647.1 1512.9 644.7 1510.9 643.7 1508.7 642.6M1414.5 705.8L1415.3 708.5 1415.5 710.7 1417 713 1414.8 715.1 1412.5 716.1 1411.1 718.3 1410.4 721.3 1410.5 723.1 1410.4 725.4 1407.8 724.4 1404.6 723.4 1403 725.5 1400 726.5 1400.9 728.7 1400.4 731.1 1400 733.7 1397.5 733.5 1395.9 734.7 1392.5 734 1390.5 732.9 1387.2 731.6 1386.5 733.7 1385.7 737.1 1384.5 738.9 1383.9 742.5 1383.5 745.1 1382 746.8 1380.6 748.7 1378.3 750.3 1375.6 750.8 1373.2 751.7 1371.1 753.4 1368.2 754.4 1367.2 756.9 1364.8 757.5 1362.6 758.8 1359.7 758.6M1727.2 362.5L1724.9 364.9 1722.7 366.3 1719 367.3 1716.8 369.3 1713.2 369.2 1710.6 370.4 1707.5 371.1 1705.6 372.8 1702.9 373.3 1700.2 374.5 1697.7 376.6 1695.1 378.6 1693.1 378.7 1690 379.6 1687.8 379 1685.8 381.3 1684.7 384.8 1686.8 386.8 1687.8 390 1689.6 392 1691.7 393.6 1694.5 394.2 1694.8 397.1 1694.5 399.6 1692.3 402 1693 404.5 1691.1 405.6 1689.9 407.6 1687.7 408.4 1684.8 406.6 1682.7 407.2 1680.5 408.3 1677.7 410.2 1675.7 412.3 1673.3 412.8 1672.1 415.4 1670.3 417.4 1668.2 418.4 1665.1 419.6 1661.9 420 1660.7 422.5 1657.9 422.6 1656.8 425.2 1653.8 425.4 1650.7 427.9 1647.4 428.4 1644.3 428.7 1643.2 431.4 1640.2 433.5 1640 436.7 1639.7 439.4 1638.6 442.8 1636.4 443.6 1634 442.8 1631.8 441.9 1630.9 439.7 1629.6 437.8 1630.3 435.6 1628.7 435.1 1626.7 433.5 1624.4 435.5 1621.6 435.6 1621.3 437.8 1621.7 440.3 1622 443.2 1619 443.9 1616.8 444.9 1614 443.9 1611.2 445.3 1609.5 446.3 1608.1 448.6 1607.1 446.6 1607.1 444.9 1605.5 443.5 1602.9 443.2 1600.5 443.1 1597.8 443.1 1595.2 441.5 1592.6 441.8 1590.2 440.1 1587.4 439.7 1584.3 438.8 1581.2 438.7 1581.4 441.5 1580.9 444 1580.2 447 1578 449.2 1575.1 450 1574 452.1 1572 453.3 1570.1 455 1567.7 456.3 1565.5 454.8 1563.6 455.2 1561.8 458.1 1561.1 461.4 1561.9 464.3 1562.6 466.6 1561.3 469.8 1560.7 472.8 1561.1 475.9 1558.1 475.5 1555.3 476.4 1552.6 477 1550.2 477.9 1548.1 478.4 1545.8 476.6 1545 474.9 1544.7 477.9 1545 481.2 1545.6 484.6 1543.8 485.6 1540.6 485.2 1538.8 485.3 1535.6 485.8 1532.5 485.3 1530.8 487.7 1528.4 490.4 1526.6 492.7 1525.3 495.6 1523.6 494.1 1523.9 492.5 1522.1 491.2 1519.1 490.4 1517.5 491.5 1515.6 492.5 1513.8 494.8 1512.3 497.7 1510.3 498.2 1507.4 499.1 1505.6 500.8 1505.8 504.4 1505.6 507.4 1503.7 506.9 1501.5 507.4 1500.6 510.8 1498.4 513.2 1497.5 516.4 1497.2 519.3 1495.7 521.5 1495.4 524.1 1497 527.1 1496.9 529.8 1498.5 531 1499.4 532.9 1501.4 532.4 1503.6 531.8 1505.9 532.7 1507.7 534.9 1508.2 538.5 1510.6 541.1 1510.8 544.3 1509 546.1 1508.7 548.4 1505.9 550.5 1504.6 553.6 1503.3 555.9 1501.6 558.5 1500.5 560.8 1499.5 562.9 1500.8 566.1 1500.5 568.1 1500.7 570.7 1501.6 573.2 1502.5 576.4 1504.1 578.8 1503.8 582.4 1505.6 585.7 1506.6 588.6 1506.7 591.6 1508.8 594.4 1508.7 598.1 1508.9 600.4 1510.2 602.6 1509.8 605.3 1511.1 606.9 1511.4 608.4 1509.8 610.9 1507.8 609.6 1505.2 608.1 1501.9 607.4 1502.9 604.3 1503.4 601.2 1505.6 598.1 1504.6 595 1505.4 592.5 1505.9 589.8 1505.6 587.7 1502.9 586.2 1499.4 586.1 1496.7 587 1494.6 588.9 1492.2 589.4 1492.5 592.6 1494.2 595 1493.5 597.1 1493.2 599.6 1493.6 602.2 1490.7 602.1 1488 601.2 1486.8 602.6 1486 604.3 1483.6 603.6 1481.8 604.3 1482.4 606.8 1482.9 608.4 1481.2 610.6 1479.1 612.6 1477.1 614.6 1476.6 617.8 1477.4 621.2 1476.3 623.8 1476.6 627.1 1478.4 629.7 1480.9 631.2 1482.9 633.3 1484 635.5 1486.8 635.7 1488 637.8 1491.2 639.4 1493.2 641.2 1493.9 639.3 1494.9 637.4 1495.4 634.3 1494.9 631.6 1496.9 631.6 1498 634.7 1497.3 637.4 1498.9 640.2 1501.5 641.6 1504.2 643 1505.6 644.7 1507.3 642.9 1509.8 642.6 1512.8 641.5 1516 641.6 1518.1 640 1519.7 639.1 1522.2 641.4 1523.2 644.7 1524.7 646.2 1525.5 649.3 1527.4 650.9 1529.5 651.1 1531.5 651.9 1532.6 651 1534.6 649.9 1537.7 650.3 1539 648.7 1541.2 646.1 1543.3 645.3 1544 647.6 1546.8 649.6 1547 651.9 1549.1 654 1549.4 657.7 1551.6 660.2 1552.1 663.2 1554.3 665.4 1555.4 668 1558.5 670.2 1560 672.8 1562.6 674.7 1563.3 676.7 1564.6 678.8 1567.7 679.9 1568.4 682.2 1569.8 684 1572.9 684 1573.9 686.7 1577 688 1578.1 690.2 1580.2 690.8 1581.2 693.3 1582.2 696.4 1583.2 699.1 1586 699.9 1587.4 702.7 1590.6 704.2 1592.6 706.2 1594.5 707.5 1597.8 707.8 1598.8 705.3 1601 707.3 1604 708.9 1606.3 711.3 1608.1 713.6 1609.8 713.9 1611.6 715.1 1612.3 718.8 1614.3 721.3 1616.1 724 1618.5 725.4 1619.4 728.7 1621.6 730.6 1623.8 732 1626.7 732.7 1624.1 733.8 1622.6 735.2 1623.6 737.3 1624.7 738.9 1626.3 736.6 1628.8 735.2 1631.6 734.8 1634 734.3 1634.9 732.7 1636.1 730.6 1636.2 733.5 1638.1 735.8 1641 737.5 1642.8 740 1644.3 742 1647.3 743.6 1648.5 746.1 1651.6 747.2 1652 750.6 1653 753.4 1654.8 755.2 1654.8 757.6 1655.7 760M1478.3 590.8L1480.9 589 1483.9 588.8 1486.2 590.5 1487.4 591.9 1489.5 590.2 1492.2 589.4 1489.9 590.7 1487.4 592.9 1487 594.6 1484.9 596 1481.6 595.9 1479.1 597.1 1478 594.3ZM1093.2 760L1092.8 762.6 1093.8 765.9 1092.8 769.3 1093.2 771.1 1094.9 772.8 1093 771.3 1090.1 770.4 1087.8 770.7 1086 771.4 1084.8 773.3 1084.1 775.7 1082.9 778.2 1080.2 776.7 1077.7 774.5 1077 771.8 1074.6 769.3 1071.1 768.7 1068.4 767.9 1066.1 769.5 1063.8 769.3 1065.7 771.6 1068.4 772.4 1067 775 1066.6 778.3 1066.7 780.7 1068.5 782.7 1070.4 784.8 1070.1 788.3 1071.5 791.1 1069.8 793 1067.4 795.3 1066.3 797.3 1065.3 799.3 1064.2 801.4 1063.4 799.2 1062.2 796.2 1060.1 798.1 1059.1 800.4 1058 802.4 1056.3 804.4 1055.7 806.8 1054.4 809.5 1053.5 811.8 1051.6 813.9 1050.2 816.5 1047.7 819 1045.6 821 1043.5 822.7 1045.1 825.3 1046.2 827.7 1047.2 830.4 1047.7 833 1047.5 835.3 1046.9 838.3 1046.6 840.7 1047.3 843.6 1048.1 847 1050.5 848.7 1052.8 850.1 1055.5 849.1 1059 850 1062.2 848.9 1065.3 848.4 1063 849.9 1060.6 852.3 1058 853.2 1055.9 855.2 1054.8 857.3 1053.5 859 1052.4 855.9 1051.1 854.1 1050.8 851.1 1049 849.4 1046.6 848.6 1043.7 848.5 1041.4 848.6 1040.8 850.5 1039.4 853 1037.3 854.2 1035.7 856 1035.7 859 1032.8 859.3 1029.5 859.7 1027 860 1024.7 862.5 1023.9 865.6 1020.9 866.6 1018.7 867.2 1016.3 867.3 1013.3 867.2 1010.7 867.6 1008.3 867 1006.7 869.7 1008 871.3 1009.4 873.9 1012.3 874.6 1014.9 875.3 1017.7 873.8 1019.7 874.9 1022.3 877 1024.9 877.4 1027.7 876.5 1030.5 876.9 1032.2 877.1 1035.2 877.6 1037.9 876.8 1040 875.9 1042.5 874.9 1043.5 872.1 1045.6 870.8 1048.2 871 1049.7 872.8 1052.4 874.7 1053.6 877.6 1055.9 880.1 1058.3 881.2 1061.2 882.1 1064.2 882.2 1066 884 1068.4 885.3 1069.4 884.1 1071.5 883.2 1074.1 883.4 1077.6 883.1 1080.8 883.2 1083 882 1086.3 881.3 1088.6 881.2 1091.1 879.7 1094.4 880.1 1097.3 880.1 1100.5 879 1103 880.5 1105.6 881.1 1108.5 880.6 1111.5 882.4 1114.9 882.2 1114 883.8 1112.8 886 1111.8 888.4 1111.3 890.6 1108.7 892.5 1110.5 894.3 1111.4 896.6 1110.2 895.1 1107.7 894 1105.6 892.5 1105.8 890.2 1105.6 888.4 1102.5 888.2 1099.4 886.3 1096.2 886.6 1093.9 888.8 1091.3 889.2 1088 890 1087.9 893.4 1087.4 896.6 1088.3 900.2 1089.5 902.9 1092.4 903 1094.2 903.9 1096.9 903.1 1099.4 902.9 1098.6 905.5 1097.3 908 1095.4 908.5 1094.2 909.5 1091.5 909.9 1088.2 908.8 1084.9 908 1083.1 905.1 1081.8 902.9 1079.1 904.2 1075.8 905 1072.5 906 1070.5 907.2 1068.5 908.8 1066.3 909.1 1064.9 912.3 1064.2 915.3 1065.4 914.3 1067.3 913.2 1068 916.8 1069.4 919.4 1072.3 921 1075.1 920.2 1077.4 922 1080.8 922.5 1082.1 923.7 1082.9 925.6 1084.8 927 1088.3 927.3 1090.8 927.7 1093.2 929.8 1096.2 928.9 1098.9 927.7 1101.6 926.4 1104.6 924.6 1106.5 922.4 1107.7 920.5 1109.3 919.1 1111.8 919.4 1110.4 916.6 1109.8 914.2 1112.1 914.5 1113.9 916.3 1112.2 917.6 1111.8 920.5 1114.4 921.8 1118.1 921.5 1119 924.6 1120.1 927.7 1121.2 929.8 1119.3 931.1 1117.5 933.5 1116 934.9 1114 937.1 1112.6 938.2 1109.8 939.1 1107.7 941.8 1110.5 941.4 1113.2 941.7 1116 942.2 1117.9 942.4 1119.1 944.3 1119.1 942.1 1121.5 940.2 1122.2 938.1 1122.7 940.2 1123.2 943.2 1125.7 942.3 1128.4 940.1 1129.8 938.3 1131 936.7 1131.5 933.9 1130.2 932.6 1128.8 930.2 1132 930.3 1134.6 928.7 1136.4 928.9 1138.8 929.8 1137.8 927 1134.7 925.4 1133.6 922.5 1137 922.6 1140.2 922.4 1142.9 923.6 1144.1 922.1 1143.9 919.4 1145.9 921.9 1148.1 923.6 1151 924.4 1153.4 924 1155.8 924.5 1158.4 924.6 1157.4 927.1 1155.3 928.7 1152.9 928.2 1150.1 927.7 1151.5 930.9 1153.3 932.9 1155.9 933.6 1159 934.3 1161.5 934.9 1160.2 938 1158.4 940.1 1158.5 943.5 1158.9 945.9 1159.5 949.4 1161.8 950.3 1163.6 950.5 1165.7 948.4 1167.8 950.4 1169.8 951.5 1172.8 951.3 1175.6 952.5 1176.2 949.4 1175 947.3 1176 944.3 1176.8 942.2 1179 940.6 1180.2 938.5 1179.3 935.1 1177.1 932.9 1178.6 930.2 1179.6 928.8 1180.2 925.6 1178.9 922.4 1178.1 919.4 1181.2 919.4 1182.6 922.6 1184.3 924.6 1186.6 923.3 1189.1 924.1 1191.6 922.5 1192.5 919.3 1194.2 917.1 1196.7 914.2 1194.1 915.5 1191.6 916.3 1190 913.8 1188.4 912.2 1190.6 910.4 1193.6 909.1 1191.2 907.4 1187.4 907 1186.1 907.7 1184.3 909.1 1182.9 907.3 1180.2 906 1178.7 903.9 1176.5 901.8 1174 900.8 1172.7 898.8 1170.5 896.8 1168.3 895.5 1166.7 893.5 1169.1 892.4 1170.8 891.5 1173.6 892.5 1175.3 891.5 1178.1 891.5 1179.7 894.1 1181.2 895.6 1183.7 896.7 1186.1 898.3 1188.4 900.8 1190.8 898.9 1193.6 896.6 1197.1 897.6 1199.8 897.1 1201.9 898.9 1204.7 899.4 1207 900.5 1209.2 901.8 1210 904.5 1209.2 907 1210.3 908.9 1212.4 910.7 1213.3 913.2 1213.8 916.1 1214.9 917.4 1216.4 919.4 1219.5 921.5 1221.6 923.6 1223.3 926.6 1223.7 929.7 1224.6 933 1226.7 936 1228.8 937.5 1230.9 937 1233.1 936 1235 934.9 1236.4 936.8 1238.1 937 1238.3 935.1 1240.2 933.9 1238.3 932.4 1238.6 929.7 1237.1 927.7 1239.4 927.4 1242.3 926.7 1244.5 928.8 1246 931.8 1247.3 929.6 1249.3 928.9 1250.6 926.7 1250.9 929.8 1252.6 932.9 1252.3 936.3 1253.3 939.4 1253.7 942.2 1255.1 944.8 1257.1 947.4 1259.9 949.4 1261.1 952.4 1260.5 954.6 1262.8 956.6 1265.5 955.7 1268.2 957.7 1271.3 956.7 1272.4 953.5 1272.3 950.5 1271.7 947 1270.4 944.6 1269.2 942.2 1268.2 939.1 1270.5 937.4 1273.3 936 1275.9 935.9 1279.3 935.6 1281.6 934.9 1284.6 935.1 1286.6 935.9 1289.5 935.6 1291 933.1 1294.1 931.8 1296.1 929.8 1298.7 927.7 1301.4 926.7 1304.4 925.6 1307.2 924.1 1309.5 923.8 1312.7 923.6M1147 938.1L1148.9 940 1151.2 941.1 1154.3 942.2 1154.6 945.1 1154.6 947.7 1155.3 950.5 1154.5 953.9 1151.9 956.2 1151.2 959.8 1148.6 960 1146.2 960.1 1143.9 959.8 1141.1 959.6 1138.2 959.2 1134.6 958.8 1134.4 961.1 1132.7 963.3 1131.5 965 1131 968.3 1128.8 971.2 1126.3 969.1 1124.4 966.3 1122.2 963.9 1123.8 961.6 1125.6 959.8 1126.3 956.7 1128.4 955.8 1131.4 955.1 1133.6 953.6 1131.8 952.1 1128.8 952.1 1129.2 950 1129.4 947.4 1132.6 946.8 1134.5 946.2 1137.7 946.3 1138 944.4 1138.8 942.2 1142 941.2 1144.4 938.9ZM1131.5 947.4L1133.6 946.4 1136.7 946.3 1139.3 946 1141.7 947.6 1143.9 947.4 1145.1 949.2 1145 951.5 1141.5 952 1138.8 953.6 1136.1 952.6 1132.5 952.5 1132.7 950.2ZM1312.7 923.6L1312.6 920.2 1314.3 917.3 1314 914.4 1313.3 912.1 1312.7 909.1 1312.3 906 1311.6 902.9 1311.7 900.1 1313.7 897.7 1311.8 895 1310.6 892.5 1310.9 888.8 1309.6 886.3 1311.1 884.4 1312.7 882.2 1313.4 879.8 1312.7 878 1315.5 879.1 1318.9 878.4 1319 881.7 1321 884.2 1322.1 887 1324.1 890 1326.2 888.9 1328.1 886.1 1329.2 884.2 1331 882.7 1333 880.3 1333.4 878 1335 875.4 1335.4 873.3 1334.6 870.4 1335.9 867.7 1335.2 864.9 1334.4 861.4 1337.4 862.8 1340 862.5M1312.7 923.6L1314.2 925.6 1315.9 927.8 1316.8 930.8 1319 932.1 1320.4 934.3 1323 936 1326 938 1328.9 939.1 1331.3 941.2 1334.7 941.9 1337 943.2 1340 944.3M1277.9 925.6L1277.4 927.8 1278.5 929.8 1281.4 930.5 1284.7 931.8 1287.6 933 1289.9 935.6M1280.6 943.2L1283 941.2 1286 941.8 1287.8 940.1 1290.8 940.7 1293.8 940.9 1297 941.5 1300.2 942.6 1299.8 944.7 1299.2 947.4 1296.8 948.4 1294.6 950.1 1292 950.5 1289.6 952.3 1288.9 954.6 1286 954.1 1282.7 953.6 1282.6 951.7 1281.6 949.4 1279.9 949 1277.9 950.1 1278.3 947.3 1279.1 945.5ZM1302.3 946.3L1305.2 945 1308.1 942.5 1310.6 941.2 1314.1 940.2 1316.1 938.6 1318.9 937 1320.8 939.2 1323 941.2 1325.1 943.5 1328.4 945.3 1331.3 946.3 1332.6 949.6 1332.6 952.9 1333.5 955.3 1334.4 958.8 1335 962.3 1334.6 964.9 1335.6 967.7 1336.5 971.2 1336.4 974.1 1337.4 976.4 1337.5 979.5 1337.3 982 1335.6 984.3 1334.4 986.7 1331.8 987.9 1329.2 987.7 1326.9 989 1324.1 988.8 1321 988.8 1317.3 988.8 1314.7 989.8 1312.2 987.9 1309.6 985.7 1309.1 982.6 1307.5 980.5 1310.6 980.2 1312.7 979.5 1312.9 976 1314.7 973.3 1312.6 970.5 1311.6 968.1 1308.5 967 1306.5 964.2 1307.4 961.6 1305.4 958.8 1305.8 955.9 1305.5 953.2 1304.4 950.5 1304.3 948.1ZM1292 956.7L1295 955 1298.2 954.6 1299 956.3 1301.3 956.7 1300.4 959 1300.2 961.9 1302.6 964.4 1304.4 967 1306.2 968.6 1308.5 969.1 1306.6 972.1 1306.5 975.3 1303.4 976.8 1300.2 976.4 1299.8 973.8 1301.3 971.2 1298.8 969.1 1296.1 967 1294.3 965.7 1292.2 964.4 1289.9 963.9 1292.4 963 1294.5 961.9 1293.2 959.2ZM1340 944.3L1337.9 946.1 1334.4 946.3 1335.5 949.1 1336.6 952.6 1336.8 955.3 1337.5 958.8 1337.8 961.6 1339.1 964.6 1339 968.1 1340 971.2M1305.4 1017.8L1308 1016.3 1310.6 1016.7 1313 1018.2 1314.7 1020.9 1317.4 1021.8 1318.9 1024 1317.4 1025.8 1315.8 1028.1 1313.7 1026.2 1310.6 1026 1307.8 1024.9 1306.5 1022.9 1306 1020.4ZM1322 1011.6L1324.5 1011.8 1327.2 1011.6 1327.3 1013.7 1327.2 1016.7 1324.9 1016.7 1323 1017.8 1323 1015ZM1259.9 1061.2L1263 1060.2 1264 1062.1 1265.1 1064.5 1266.1 1066.4 1269.1 1067.7 1271.3 1069.5 1269.8 1071 1267.8 1073.4 1267.1 1075.7 1263.6 1075.6 1260.9 1074.7 1258.4 1074.4 1256.8 1072.6 1258.3 1069.8 1259.1 1067.2 1259.8 1064.7ZM1321 1060.2L1324 1059.9 1327.2 1058.1 1329.3 1061.3 1331.3 1063.3 1330.1 1065.7 1328.8 1067.6 1328.2 1069.5 1325.3 1071 1322 1070.6 1320.5 1068.1 1318.9 1066.4 1320.6 1063.9ZM1359.7 760L1360.7 763.2 1361.7 766.2 1363.9 768.1 1364.9 769.4 1366.9 771.4 1366.8 774.1 1366.8 776.2 1367.3 778.6 1365.5 781.4 1363.6 783.4 1362.4 785.9 1363.1 788.6 1365.2 791.9 1366.9 794.2 1367.3 797.5 1368.6 799.9 1369 802.4 1369.7 805 1371 806.6 1372.1 808.7 1372.9 810.2 1375.2 810.7 1376.6 812.6 1377.3 816 1379.3 817.5 1380.4 820 1382 821.6 1383.9 822.1 1385.2 825.1 1386 827.3 1387.6 825.6 1389.7 823.1 1391.8 822.4 1394.2 822.1 1396.3 824.5 1396.9 827.3 1395.4 829.5 1394.2 831.4 1396.7 831.9 1399.6 830.3 1402.1 830.4 1404 831.4 1405.8 831.4 1406 834 1404.6 835.6 1406 836.2 1407.3 838.3M1340 862.9L1343.1 862.5 1344.3 861.3 1343.7 859 1345.8 858.5 1347.2 856.3 1348.5 853.3 1350.4 851.7 1353.9 852.1 1356.7 850.7 1359.7 851.5 1362.2 851.4 1365.5 851.4 1368 851.5 1370.4 853.3 1371.6 855.4 1374.2 856.3 1376 854.8 1379.3 854.4 1381.4 853.6 1384.7 853.6 1387 850.9 1389.7 851.1 1391.2 848.9 1392.8 845.9 1395.5 844.6 1396.7 842.7 1399 841.8 1402 840.8 1404.4 839.1 1407.3 838.3 1409.2 839.5 1411.4 839.1 1413.7 838.3 1415.6 839.3 1418.3 838.7 1419.7 837.1 1419.7 834.9 1422.5 834 1425.9 834.1 1429.2 832.6 1432.1 832.9 1433.7 835.2 1436.3 836.6 1436.2 839.4 1439.1 842.1 1439 844.9 1440.9 845.6 1443.5 845.3 1446.6 844.5 1447.8 847.2 1448.3 851 1449.3 854.2 1451.8 856.3 1452.1 859.2 1452.8 861.4 1454.3 864.3 1457 866.6 1459.2 864.6 1462.2 862.5 1464.3 860.1 1466.3 857.3 1468.3 858.2 1470.8 858.3 1470.2 861 1469.9 863.2 1468.4 865.6 1467.7 868.8 1467.3 871.8 1470 871.6 1472.5 872.8 1474.6 875.1 1476.6 877.6 1478.2 874.8 1480.8 873.5 1483.3 873.1 1486 871.8 1488.3 873 1490.1 873.9 1491.8 873.9 1494.2 872.8 1495.4 874 1496.3 875.9 1495.8 879.3 1496.2 881.7 1496.9 885.3 1497.2 888.1 1499.2 891.3 1499.4 894.6 1502.2 895.7 1505.6 896.6 1508.9 897.6 1511.8 897.1 1511.5 899.3 1513.2 901.5 1513.9 903.9 1516.3 904 1519 905.3 1522.2 904.9 1524.7 906.6 1526.3 910.1 1526.1 913.3 1527.3 915.3 1527.4 918.4 1526.8 920.6 1525.2 922.2 1524.3 924.6 1521.9 924.7 1520.1 925.6 1517.1 927.4 1516 929.8 1512.7 931.7 1510.8 933.9 1510.6 936.3 1512.4 938.3 1511.8 941.2 1510.8 944.3 1512.3 947.5 1514.9 949.4 1513.5 950.8 1512.9 953.6 1510.8 954.6 1509.5 957 1507.3 958.3 1509.6 959.8 1511.8 959.8 1514.7 960.1 1518.1 958.3 1517.7 961.5 1517.3 964.2 1516 967.2 1517.1 970.3 1516 973.3 1514.7 974.8 1512.9 976.4 1515.2 977.6 1516 979.5 1519.2 978.6 1521.2 977.4 1523.4 976.7 1525.3 975.3 1527.3 977.6 1529.9 979.3 1532.1 979.8 1534.6 981.5 1537.2 983.4 1538.8 985 1541.4 986.7 1542.9 988.8 1545.9 987.4 1548.1 987.5 1551.2 987.7 1554.4 988.3 1557.4 989.8 1559.9 988.8 1561.8 991.1 1563.6 992.9 1566.1 994.5 1568.4 996 1567.3 999.1 1564.5 1000.6 1561.5 1000.2 1559.6 1001.8 1557.4 1004.3 1554.4 1005.7 1552.8 1008.4 1554.9 1009.8 1557.4 1011.6 1559.5 1013.6 1561.1 1015.1 1560.7 1017.6 1561.5 1021.4 1561.1 1024 1560.9 1026.8 1558.6 1028.7 1558.4 1031.2 1557.6 1033.3 1557 1036.4 1554.3 1038.5 1554.5 1040.7 1554.3 1043.5 1553.7 1045.7 1554.5 1047.9 1555.6 1051 1555.3 1054 1556.3 1056.1 1557 1058.1 1555.9 1061 1553.5 1062.9 1553.3 1065.4 1551.4 1067.5 1551.2 1070.6 1550.1 1073.5 1549.1 1075.7 1547.3 1079 1545 1080.9 1543.4 1083.3 1543.8 1086.8 1541.9 1089.2 1539.3 1088.8 1536.7 1087.1 1534.1 1085.8 1531.5 1084 1531.8 1086.8 1532.4 1089.3 1533.6 1091.3 1533.8 1094.2 1533.6 1097.5 1531.6 1098.7 1529.4 1099.6 1527.4 1100.6 1524.4 1101.9 1522.2 1104.7 1521.3 1107.5 1520.5 1110.9 1518.3 1109.2 1516 1107.8 1513 1106.5 1509.8 1105.8 1507.7 1107.1 1505.4 1107.5 1502.5 1107.8 1501.1 1111 1501.5 1114 1498.5 1116.4 1497.3 1119.2 1494.9 1120.6 1491.9 1121.3 1489.1 1122.3 1490.1 1124.8 1491.1 1128.1 1488.6 1129.2 1487.7 1130.9 1486 1132.7 1483.3 1133.5 1480.8 1134.7 1478.3 1136.4 1476.3 1137.9 1473.5 1138.9M1551.2 1070.6L1551.3 1074 1553.1 1076.5 1553.3 1079.9 1554.1 1081.7 1554.9 1084.3 1556.4 1086.1 1558.9 1086.8 1561.5 1088.2 1564.2 1086.9 1567.7 1086.7 1570.2 1085.9 1573.1 1085.4 1575 1084 1577.5 1085.5 1580.2 1086.1 1582.4 1083.6 1585.3 1081.9 1586.7 1079.2 1586.4 1076.8 1586.1 1073.9 1585.7 1072 1584.3 1069.5 1586.8 1067 1587.4 1064.3 1590.3 1063.7 1593.4 1063.2 1595.7 1061.9 1597.3 1063.8 1599.8 1064.3 1600.6 1066.8 1602.7 1068.4 1604 1070.6 1603.5 1073.2 1603.4 1076.8 1606 1076 1608.1 1076.4 1610.6 1074.4 1613.2 1075.4 1615.4 1073.7 1618.2 1072.5 1619.5 1070.6 1619.5 1068.2 1619.9 1066.4 1623 1067.4 1625.7 1069.5 1626.6 1066.8 1628.8 1064.3 1631.4 1064.1 1633 1062.3 1635.5 1063.8 1638.1 1066.4 1641 1067.7 1643.3 1067.5 1643.6 1069.3 1646 1070.6 1648.9 1070.1 1651.6 1067.9 1654.7 1067.5 1656.8 1069.5 1655.5 1072.2 1654.7 1073.9 1652.6 1075.7 1650.8 1078.8 1648.2 1080.6 1646 1083 1647.8 1085.9 1650.6 1087.5 1653 1086.2 1655.1 1085.1 1656.8 1084 1659.6 1083.9 1661.6 1083.4 1664.9 1083 1667.1 1082.6 1667.5 1085.4 1669.1 1087.2 1669.2 1089.2 1671.4 1090.7 1673.3 1093.7 1675.6 1092.4 1679 1092.2 1681.6 1092.3 1683.4 1090.5 1684.7 1089.2 1686.4 1090.8 1688.3 1092.8 1689.9 1095.4 1692.8 1096.8 1695.1 1097.1 1697.8 1097.9 1700.2 1098.5 1703.2 1099.9 1705.8 1099.8 1708.5 1100.6 1710.4 1101.9 1712.7 1103.7 1716.1 1104.4 1718 1106.2 1721 1107.8 1723.4 1107.2 1726.6 1108.4 1729.2 1108.9 1730.5 1110.7 1732.3 1110.9 1732.1 1108.4 1731.4 1106.4 1732.3 1103.7 1733.8 1101.5 1735.4 1099.5 1738.3 1098.7 1740 1097.5M1712.7 1103.7L1711.9 1105.8 1710.6 1107.8 1707.9 1109.5 1704.4 1109.9 1701.7 1111.6 1699.2 1112 1698.6 1115 1699.4 1117.6 1698.2 1120.2 1695.8 1121.9 1693.7 1124 1690.9 1126.5 1688.9 1128.4 1687.6 1130.1 1685.8 1132.7 1683.7 1134.1 1681.6 1135.8 1681.3 1138.8 1680.1 1140.8 1679.5 1143 1678 1146.1 1677.4 1148.8 1675.4 1151.3 1676.3 1153.3 1678.8 1155 1679.5 1157.5 1677.5 1160M1640.2 1160L1640.9 1156.3 1641.2 1153.4 1642.3 1152.3 1645.2 1152.1 1648.5 1151.3 1651 1153.4 1653 1154.8 1654.7 1157.5 1656.8 1160M1618.5 1160L1620 1158.1 1621.9 1157.5 1623.6 1155.4 1626.1 1156.5 1628 1158 1629.9 1158.6 1632.5 1159.7 1635.3 1159 1638.1 1160M1655.7 760L1658 762.9 1659.9 765.2 1662.5 767.1 1664 769.3 1665 772.1 1665.1 775.5 1667.3 777.6 1668.2 780.7 1668.1 783.8 1669.2 786.9 1670.3 788.8 1672.5 790.9 1673.7 793.1 1673.4 795.1 1671.3 796.2 1671.9 798.6 1673.6 801.5 1675.4 803.5 1677.4 804.7 1678.8 807.4 1681.3 808.9 1682.7 810.7 1682.6 813.7 1682.7 815.9 1684.4 817.7 1685.8 820 1686.5 822.6 1688.2 825.4 1689.9 827.3 1689.9 829.8 1689.8 831.9 1690.9 834.5 1691.9 837.9 1694 839.7 1695.9 841.7 1697.8 844.9 1697 847.4 1698.2 849 1699.8 851.4 1701.3 852.8 1701.5 856 1700.2 859.4 1701.3 861.1 1703.1 863.6 1703.4 865.6 1705 867.6 1707.1 869.8 1708.5 871.8 1709.8 873.1 1711.6 873.9 1712.9 876.1 1712.7 879 1714.8 880.6 1716.8 883.2 1719.2 885 1720.5 885.8 1723 887.3 1722 890.4 1724.5 892.4 1724.6 895.1 1727.2 896.6 1728.5 898.5 1729.9 901.3 1731.3 902.9 1733.4 905.2 1735.4 907 1738.6 908.6 1740 911.1 1739.9 913.1 1740.3 916.2 1740 918.4M1377.3 998.5L1379.1 995.6 1381.4 994 1382.7 990.8 1383.5 987.7 1386.2 990.1 1388.9 990.3 1391.8 992.3 1395.2 992.2 1398 991.5 1399.1 989.4 1401.1 987.7 1402.1 985.6 1401.1 982 1401.2 980.1 1402.5 977.4 1404.5 975.8 1406.9 976.5 1409.4 975.3 1412 977.4 1413.5 980.5 1414.6 978 1416.6 976.4 1416.6 974.2 1417.5 971.8 1417 969.1 1418.8 967.4 1421.2 965 1422.4 966.5 1424.9 967 1428.2 967 1430.5 965.8 1433.2 966 1435.3 967.3 1435.7 969.1 1435.6 972.1 1437 974.4 1436.3 977.4 1439 979.5 1438.1 981.2 1437.3 983.6 1438.2 985.5 1439.8 986.7 1439.3 990.3 1437.7 992.6 1436.9 996 1439.3 995.2 1441.4 995 1444.3 994.1 1446.7 993.1 1449.7 991.5 1450.8 993.5 1450.8 996.9 1451.8 999.1 1449.4 999.9 1447.7 1001.2 1446.5 1003.5 1445.2 1005.1 1443.5 1007.4 1445 1008.8 1447.7 1009.5 1446.9 1012.5 1445.6 1014.7 1443.4 1015.4 1441.4 1017.8 1439 1017.7 1436.3 1018.8 1434.2 1020 1432.2 1022.1 1431.1 1025 1428.6 1024.9 1427 1024 1425.7 1021.3 1424.9 1017.8 1422.5 1018.8 1420.7 1018.8 1418.7 1017.8 1416.2 1019.7 1414.1 1021.6 1411.4 1024 1409.2 1023.1 1407.3 1022.5 1405.5 1024.7 1402.1 1025.4 1401.9 1022.9 1399.6 1021.1 1399 1018.8 1398 1016.9 1397.8 1013.8 1395.9 1011.6 1393.6 1013.3 1390.8 1014.4 1388.7 1016.7 1387.6 1014.8 1387.2 1012.6 1389.5 1010 1389.7 1007.4 1387.9 1004.1 1388 1001.2 1385.6 1000.8 1382.4 1000.8 1379.6 999.9ZM1339.6 971.6L1338.8 974.5 1340.1 976.7 1339.4 979.5 1340 981.9 1341.1 984.2 1343.2 986.6 1344.1 989.8 1346 992 1346.6 994.5 1347.8 996.6 1349.3 999.1 1350.3 1001.9 1349 1004.5 1350.4 1007.4 1351.2 1008.9 1352.4 1010.9 1355.9 1009.8 1358.6 1010.5 1355.4 1011.1 1353.4 1012.1 1350.4 1013.6 1349.4 1016.8 1348.3 1018.8 1349.5 1021 1350.4 1022.9 1352.2 1024.9 1354.5 1025 1356.3 1027.2 1356 1029.1 1357.6 1031.2 1360.2 1032.3 1361.7 1034.9 1363.9 1035 1366.6 1035.3 1369 1035.8 1371.1 1033.8 1373.1 1033.3 1374.2 1036.4 1371.6 1038.6 1370 1040.5 1368.3 1041.9 1367.3 1044.5 1364.8 1045.7 1368.3 1046 1371.1 1046.1 1374.6 1046.5 1377.3 1045.7 1376.5 1048.8 1376.9 1051.9 1378.5 1053 1380.4 1055 1383.6 1053.5 1386.6 1054 1389.7 1053 1389.9 1055.4 1390.7 1058.1 1393.1 1058.8 1395.5 1061.2 1394.4 1062.7 1392.8 1064.3 1391.5 1062.4 1388.7 1060.9 1386.6 1059.2 1385 1060.5 1383.5 1062.7 1382.4 1065 1381.7 1067.8 1380.4 1070.6 1379.9 1068.2 1378.3 1066.4 1375.6 1066.7 1374 1064.5 1371.1 1064.3 1367.9 1063.1 1364.8 1063.3 1362.6 1064.9 1362.1 1067.4 1359.7 1068.5 1361 1070.2 1362.8 1070.6 1361.2 1073.1 1360.7 1075.7 1364.1 1075.5 1366.9 1075.7 1364.6 1078.3 1361.7 1078.6 1359.7 1080.9 1358.4 1084.2 1357.6 1087.1 1360.7 1088.2 1363.3 1088.2 1365.9 1090.2 1364.6 1092.4 1364.4 1095.4 1366.8 1093.7 1368.7 1093.2 1371.1 1091.3 1372.5 1089 1374.4 1086.5 1376.2 1084 1379 1083.2 1381.4 1083 1383.1 1085.1 1384.5 1087.1 1386.7 1086.5 1389.4 1087.1 1391.8 1087.1 1389.2 1089.1 1387.3 1090.6 1384.5 1092.3 1382 1093.2 1379.3 1093.3 1377.4 1095.3 1376.9 1097.5 1378.8 1099.7 1379.3 1101.6 1378.2 1104.4 1378.6 1107.5 1378.3 1109.9 1375.9 1111.8 1374.2 1114 1376.7 1113.5 1378.8 1115.4 1381.4 1115.1 1381.6 1117.4 1383.7 1119.4 1384.5 1121.3 1386.9 1122.8 1389.7 1124.8 1390.8 1127.5 1392.8 1130.6 1395.1 1132.3 1395.9 1134.7 1397.6 1136 1399.7 1137.1 1402.1 1138.9 1403.3 1141.7 1405.2 1143 1408 1141.4 1411.4 1141.4 1414.3 1140.4 1417 1140.4 1419.7 1139.9 1422.1 1141 1424.7 1140.8 1427 1141 1429.6 1139.6 1432.5 1140.2 1434.8 1139.5 1437.3 1137.8 1438.6 1135 1440.4 1132.7 1442.9 1131.3 1445.6 1131.6 1448.3 1131.6 1449.7 1133.7 1452.8 1133.7 1455.2 1134.7 1458 1136.8 1459.2 1138.4 1460.1 1140.5 1462.9 1140.7 1465.5 1143.1 1468.4 1144.1 1470.7 1145.4 1473.5 1146.1 1473.6 1143.6 1473.4 1141.7 1472.5 1139.3M1473.5 1146.1L1474.9 1148.3 1476.6 1151.3 1477.8 1153.8 1478.3 1156.5 1480.5 1159 1482.9 1160M1340 1110.3L1342.3 1112.2 1345.8 1113.4 1348.3 1115.1 1349.7 1118 1351.8 1118.9 1353.5 1121.3 1355.7 1123.7 1358.6 1125.4 1360.7 1122.7 1363.8 1123.2 1366.9 1122.3 1369.4 1122.3 1371.9 1123.9 1374.2 1124.4 1377.5 1125.4 1379.8 1125.8 1382.4 1127.5 1383.9 1129.5 1384.5 1132.7 1385 1136.1 1385.8 1138.6 1387.6 1141 1389.4 1143.3 1389.7 1147.2 1392.9 1147.9 1394.9 1149.2 1397.7 1148.5 1399.2 1148.4 1402.1 1148.2 1404.9 1148 1407 1147 1409.4 1146.1 1410.9 1145.6 1412.5 1144.1 1414.7 1143.4 1417.3 1142.6 1419.7 1143 1419.7 1139.9M1340 947.4L1342.2 948.4 1345.2 949.4 1347.9 948.2 1350.4 945.3 1352.6 945.1 1355.5 945.3 1357.7 946.4 1360.7 946.7 1359.7 949.4 1356.9 950.9 1354.5 950.5 1352.4 952.9 1350.4 954.6 1346.9 954.2 1344.1 954.6 1341.6 953.1 1340 951.5M1739.6 917.9L1742.1 920.4 1744.3 921.9 1746.6 924.8 1748.1 928.1 1749.7 930.3 1751.8 931.6 1752.9 933.2 1755.1 934.9 1757.3 937.6 1759.3 939 1761.7 941.6 1763.7 944.3 1766.8 945 1768 946.7 1770.8 948.4 1771.4 950.5 1773.1 952.8 1774.4 955.1 1776.9 957.5 1778.5 959.1 1780 959.8 1780.9 962.3 1781.5 965.2 1780.7 968 1781.5 971.4 1783.9 973.8 1784 975.7 1784.6 977.6 1787.1 979.7 1789.3 981.5 1790.9 982.9 1792.4 983.9 1793.6 986.3 1793.6 988.5 1792.9 989.9 1791.6 991.6 1793.5 993.9 1793.9 996.3 1794 999.6 1795.5 1001.7 1797.4 1004 1799.4 1004.8 1800.3 1007.1 1802.5 1007.9 1803.8 1009.9 1806.4 1011.8 1807.3 1014.5 1806.4 1018 1807.5 1020.5 1808.7 1021.9 1811.4 1024.1 1813.4 1025.8 1816.3 1026.5 1818.3 1028.1 1817.8 1029.6 1817.7 1032 1819.5 1034.3 1820.3 1036.6 1821.1 1039.2 1821.9 1041.3 1824.1 1042.2 1825.8 1042.9 1826.4 1044.9 1827.3 1046.7 1829.2 1048.7 1831.2 1049.1 1831.9 1052 1832.8 1053.7 1834.4 1055.7 1835.9 1056.8 1836.7 1058.7 1837.4 1059.9 1836.7 1061.6 1835.4 1063 1835.6 1065.5 1836.3 1066.9 1834.9 1069.9 1835.1 1072.4 1836.2 1074.8 1837.4 1076.2 1838 1078.5 1840.5 1080.1 1841.6 1081.3 1842.1 1083.2 1842.6 1086.3 1842.9 1088.7 1843.8 1091.5 1846 1093.3 1848.4 1094.1 1849.8 1096.4 1851.6 1097.7 1853 1098 1850.6 1100.3 1851.2 1103.8 1850.3 1106.5 1850.6 1110.1 1851.9 1112.7 1850.8 1115.1 1850.6 1116.6 1850.8 1119 1850.9 1121.5 1852.5 1123.6 1851.4 1126.7 1852.2 1129.8 1851.9 1132.9 1853.6 1135 1853 1138.4 1852.9 1140.9 1854.5 1143.8 1856.2 1146.1 1857.6 1148.4 1858 1151.5 1859.9 1154.7 1861.5 1158 1862.3 1160.9 1863.3 1162.6 1863.8 1164 1862.7 1167.1 1864.3 1170.2 1864.3 1173.3 1864 1176.9 1863.8 1179.5 1863.2 1181.4 1862.3 1183.4 1860.7 1184.4 1858.4 1184.9 1857.1 1187.2 1856.1 1190.4 1855.2 1192.9 1853.7 1195 1852.7 1197.1 1853 1200M1740.7 1100.3L1743.5 1100.6 1745 1101.9 1745.9 1104.1 1748.2 1105.4 1748.9 1108.1 1750.9 1107.8 1753.6 1108.9 1755.4 1108.5 1757.5 1108.9 1759.2 1105.9 1759.8 1103.4 1760.4 1100.8 1762.1 1098 1764 1097.1 1766.8 1097.2 1767.4 1099 1768.6 1100.3 1771.4 1099.3 1774.5 1099.5 1776.9 1099.6 1779.5 1100.6 1781.5 1100.3 1783.6 1102 1786.2 1102.6 1788 1100.1 1788.5 1098 1791 1097.1 1792.4 1094.9 1794.5 1096.9 1797.8 1098 1799.9 1099.2 1802.1 1100.5 1804 1101.9 1805.3 1104 1807.9 1105 1809.4 1106.7 1810.2 1108.1 1812.6 1107.7 1814.9 1107.3 1815.9 1108.4 1818.3 1108.1 1817.8 1105.5 1817.7 1103.6 1817.2 1101.1 1816.5 1099.5 1817.9 1096.6 1820.3 1094.9 1822.1 1093.7 1824.2 1091.8 1825 1088.7 1826.6 1090.2 1826.9 1087.7 1828.9 1086.3 1831.1 1085.1 1832.8 1084 1834 1083.6 1835.9 1082.5 1838.2 1082.1 1840.5 1080.9M1340.1 1110.8L1337.4 1109.6 1334.9 1109.3 1332.8 1108.7 1330.6 1110.5 1329.3 1113.5 1327.4 1115.8 1326.2 1118.6 1323.5 1120.7 1320.7 1120.5 1317.5 1119.8 1314.5 1119.2 1311.1 1119 1307.9 1119.7 1304.9 1120.7 1302.2 1121.1 1300.7 1122.8 1300.5 1125.5 1301.8 1128 1303.7 1127.8 1306.6 1127.3 1309 1126.9 1310.5 1129 1310.4 1131.7 1311.1 1134.2 1312.8 1136.4 1316.3 1137.3 1316.9 1139.5 1318 1141.9 1318.3 1144.5 1315.2 1145.4 1314 1147.8 1311.1 1148.7 1308.2 1150.1 1305.9 1151.8 1306 1154.3 1306.3 1157.3 1307 1160 1304 1161.3 1301.8 1162.1 1299.2 1164.8 1296.6 1166.3 1294.6 1164.3 1292.5 1163.1 1293.1 1161.1 1294.9 1159.1 1295.6 1156.9 1296.2 1154.6 1298.7 1152.8 1298.5 1150.4 1297.4 1147.7 1296.6 1144.5 1296.3 1142.2 1295.5 1139.7 1294.5 1137.3 1295.6 1135.1 1296.6 1131.7 1296.2 1129 1295.2 1130.7 1292.5 1131.1 1292.7 1134.6 1293 1136.8 1292.9 1140.4 1290.7 1140.7 1288.3 1142.4 1287.5 1146 1285.8 1148.7 1283.7 1146.9 1282.7 1145.7 1280 1144.5 1277.9 1146.3 1276.3 1148.1 1274.9 1149.7 1275 1152.9 1275.9 1155.9 1272.8 1156.9 1270.7 1159 1270.1 1160.9 1268.7 1162.1 1270.2 1164.2 1271.6 1165.2 1274.2 1166.3 1275.5 1168.5 1275.9 1171.4 1274.2 1169.7 1271.1 1168.5 1269.7 1166.3 1268.2 1168.5 1265.8 1170.1 1264.5 1173.5 1262.4 1174.4 1261.4 1175.6 1262 1177.8 1264 1179.6 1264.5 1181.8 1264.6 1185.4 1263.5 1188 1265.5 1186.6 1267.6 1184.9 1269.9 1181.9 1271.8 1179.7 1275.3 1180.1 1278 1181.8 1280 1183.8 1281.1 1187 1283.6 1185.4 1286.3 1184.9 1288.7 1184.7 1291.4 1183.9 1290.2 1186.5 1290.2 1189 1288.3 1191.1 1290.8 1193.7 1292.5 1196.3 1293.9 1199.5 1296.2 1201.4 1296.1 1205 1295.6 1207.7 1294 1210.6 1293.5 1213.9 1295.4 1214.3 1297.6 1212.8 1298.5 1210.4 1299.7 1208.7 1302.6 1208.6 1304.8 1208.7 1307 1207.7 1309.3 1207.5 1311.5 1208.5 1314.2 1207.7 1314.6 1205.8 1316.3 1203.5 1317.7 1206.3 1317.3 1208.7 1320 1210.4 1322.5 1212.8 1322.7 1215.4 1324.1 1217.9 1326 1220.1 1325.7 1223.2 1326.6 1225.3 1328.9 1228.2 1330.8 1230.4 1330.9 1232.8 1329.7 1235.8 1329.1 1238.1 1329.7 1240.8 1331.9 1241.6 1334.9 1240.8 1332.7 1240.9 1330.8 1242.9 1331.2 1246.1 1331.4 1248.6 1332.8 1251.1 1331.3 1253.3 1330.6 1255.6 1329.7 1258.4 1332.5 1259.8 1334.1 1262.1 1335.9 1263.6 1338.2 1264 1339.8 1266.7 1342.2 1267.7 1344.9 1267.4 1346.7 1268.4 1349.4 1268.7 1346.3 1269.9 1343.1 1269.1 1340.1 1270.8 1337.9 1272.1 1335.4 1271.9 1333.5 1272.9 1335 1276.2 1335.9 1279.1 1338.2 1281.9 1338.9 1285.5 1341.1 1287.4 1340.1 1290.2 1339 1293.6 1339.1 1296.3 1340.1 1299.8 1340.6 1301.9 1342.2 1303.9 1340.1 1305.2 1338.1 1307.5 1337 1310.1 1335.2 1311 1333.5 1311.2 1332.5 1314.1 1333.5 1316.4 1334.9 1314.5 1336 1312.3 1338 1311.2 1340 1311.5 1341.8 1313 1344.2 1314.3 1346.3 1314 1348.4 1314.3 1349.1 1316.6 1350.7 1318.5 1352.5 1320.5 1354.7 1322.2 1356.6 1324.6 1358.3 1324.9 1360.8 1325.7 1358.4 1327.4 1356.6 1328.8 1358.1 1331.4 1359.1 1334 1360.9 1336.6 1362.9 1339.1 1364.2 1341.1 1363.9 1344.3 1367.5 1344.7 1370.4 1344.8 1373.2 1346.4M1266 1196.9L1266.1 1194.7 1268 1192.1 1271 1190.1 1274.2 1189.4 1277.2 1189.6 1279.6 1191.5 1277.3 1193.4 1275.9 1195.7 1273 1196.8 1270.7 1197.3 1268.6 1197ZM1299.7 1209.7L1303.1 1208.7 1305.7 1208.5 1309 1208.7 1309 1211.9 1310 1214.6 1311.2 1217.8 1310.5 1221.4 1311.1 1224.2 1313.1 1226.4 1314.5 1229.4 1315.2 1231.9 1316.3 1234.6 1316.6 1237.9 1318.9 1240.8 1319.5 1243.8 1319.5 1247.4 1319.6 1250.4 1321 1253.2 1320.4 1255.2 1319.4 1257.8 1316.3 1256.2 1314.2 1254.2 1311.1 1253.2 1308.1 1251.2 1305.9 1249.1 1304.8 1247.4 1303.6 1244.6 1302.8 1242.9 1303.9 1240.1 1303 1236.8 1303.9 1234.6 1302.9 1232.2 1301.9 1229.8 1300.7 1227.2 1300.7 1224.2 1300.3 1221 1300.8 1218.4 1301.1 1215.8 1299.9 1212.2ZM1373.2 1346.4L1373.8 1343.6 1376.3 1341.2 1378.9 1339.6 1382.6 1339.1 1385.6 1338.1 1388.1 1337.6 1390 1336.2 1391.8 1334 1394.1 1332.3 1397 1332.9 1399.1 1331.5 1399.2 1328.8 1400.8 1326.5 1400.5 1323.6 1401.9 1320.5 1401.1 1317.6 1402.2 1314.3 1405.5 1313.9 1408.4 1313.3 1410.3 1312.3 1412.6 1310.5 1414.6 1309.5 1417.3 1310 1420.5 1311.2 1423.9 1311.6 1426.1 1312.6 1429 1312.1 1431.2 1312.2 1431.7 1314.5 1432.8 1317.9 1433.4 1319.6 1434.3 1322.6 1435.6 1324.9 1438.3 1326.1 1439.5 1327.7 1442.9 1328.3 1445.7 1329.8 1446.2 1327.3 1447.7 1324.6 1450.3 1323.7 1452.8 1324.4 1455.7 1324.4 1458.1 1323.2 1461.3 1323.4 1464.6 1323.9 1467.4 1324 1469.9 1321.9 1470.5 1319.5 1473.6 1317.4 1476.7 1317.4 1479.3 1315.7 1481.9 1315.3 1484.3 1316 1486 1318.4 1486.9 1321.2 1487.2 1324.8 1488.1 1327.7 1489.1 1331.3 1491 1333.7 1491.2 1337.1 1493.7 1338.8 1495.4 1341.8 1497.4 1340.3 1499.5 1339.7 1501.2 1338.1 1502.1 1341 1504.5 1343.4 1505.7 1346.4 1508.3 1348 1510.9 1348 1513.2 1347.1 1515.5 1346.2 1518.1 1345.3 1518.4 1343.2 1519.5 1340.5 1518.5 1337.2 1519.2 1335 1521.9 1335.3 1523.9 1336.4 1526.4 1338.1 1528.8 1338.5 1531.7 1340.1 1533.7 1341.2 1535.6 1338.2 1535.3 1335 1536.8 1331.9 1538.9 1333.5 1540.5 1336M1482.9 1160L1485.1 1161.6 1488.1 1162.1 1490.4 1164.6 1493.3 1166.3 1494.9 1168.3 1494.8 1171.2 1495.4 1173.5 1493.8 1175.3 1491.2 1176.6 1488.1 1175.4 1486 1173.5 1482.9 1175.5 1479.8 1175.6 1479.2 1178.8 1478.8 1181.8 1476.8 1184.7 1474.7 1187 1473.4 1189 1473 1191.1 1470.9 1193.5 1470.4 1195.3 1469.5 1198.1 1467.4 1200.4 1470.2 1200.9 1473.6 1201.4 1474.1 1204.6 1474.6 1206.8 1475.7 1209.7 1477.5 1212.2 1478.8 1213.9 1480.9 1216.1 1484.5 1217.5 1486 1220.1 1487.4 1221.8 1489.2 1223.2 1486.4 1223.9 1485 1225.3 1486.6 1227 1487.1 1229.4 1486 1230.9 1485 1233.5 1487.4 1234.1 1489.2 1234.6 1491 1236.5 1491.8 1239.2 1493.3 1240.8 1496.4 1242 1499.5 1241.8 1501.8 1241.1 1504.4 1238.4 1506.7 1237.7 1507.5 1240.1 1508.8 1242.9 1511.9 1242.9 1511.7 1245.4 1510.9 1248 1513.1 1248.2 1516.1 1249.1 1517.7 1250.7 1520.4 1252.1 1521.2 1254.2 1519.9 1256.1 1517.1 1257.3 1515.8 1260.3 1516.9 1263.3 1516.1 1265.6 1514.5 1267.1 1513.7 1269.2 1513 1271.8 1511.9 1274.4 1512.4 1277.9 1511.5 1280.1 1511.5 1282.7 1511.3 1285.3 1510.9 1287.4 1514.3 1288.6 1517.1 1288.4 1520 1289.7 1522.3 1290.5 1525.9 1291.6 1528.5 1292.5 1528.9 1295.3 1529.8 1299 1530.6 1301.9 1531.4 1304.5 1530.9 1307 1531.6 1309.1 1532.5 1311.6 1533.5 1314 1534.7 1316.4 1536 1318.8 1537.8 1320.8 1538.8 1323.6 1539.5 1326.5 1540.5 1329.8 1540.4 1332.5 1540.5 1336 1541.8 1333.6 1543.2 1331.4 1546.1 1329.4 1547.7 1331.7 1549.2 1334 1552.6 1335.4 1555.4 1336 1557.6 1336.9 1559.7 1337.3 1561.6 1339.1 1564.3 1336.8 1567.6 1336.7 1569.9 1335 1573.4 1335 1576.1 1333.5 1578.4 1336.2 1581.3 1337.1M1620 1158L1617.7 1159 1614.9 1158.9 1612.3 1159 1610.7 1161.9 1610.3 1165 1608.5 1167 1609 1170.7 1607.2 1173.5 1609.7 1175.4 1610.1 1177.9 1613.2 1179.1 1614.4 1181.8 1612 1182.8 1609.5 1181.6 1607.2 1182.8 1605.1 1181.2 1602.2 1180.4 1601 1178.7 1597.9 1178.9 1594.7 1177.6 1593.2 1180 1592.9 1182.8 1590.6 1184.9 1587.5 1185.5 1584.4 1187.9 1581.3 1188 1584.2 1189.2 1586.5 1192.1 1588.3 1194.7 1588.4 1197 1589.6 1199.4 1588.1 1202.4 1587.5 1205.6 1587 1202.7 1584.3 1200.2 1583.4 1197.3 1580.8 1198.9 1578.2 1199.4 1576.6 1200.4 1574.4 1201.3 1572 1202.5 1569.1 1203.6 1567.2 1204.7 1564.7 1206.6 1565.2 1209.4 1565.8 1212.8 1567.7 1213.9 1571.2 1215.1 1573.5 1215.8 1576.1 1215.9 1577.3 1218.1 1578.8 1220.2 1580.2 1222.2 1583 1224 1585.4 1226.3 1583.6 1228.7 1580.2 1230.4 1581 1233.4 1580.6 1236.1 1580.6 1238.5 1581.3 1240.8 1580.8 1243.7 1581.3 1246.1 1579.8 1249.1 1580 1252.4 1578.2 1255.3 1580.2 1257.3 1581.8 1260.8 1582.3 1263.6 1581 1265.7 1578.2 1267.4 1577.3 1269.8 1575.1 1271.8 1574.7 1274.4 1576.9 1277.1 1576.5 1280.1 1579 1280.1 1580.9 1278.6 1583.4 1279.1 1584.6 1276.3 1585.4 1273.9 1586.1 1276.1 1587 1278.3 1588.5 1280.1 1590.7 1280.7 1593.2 1282.4 1594.7 1284.3 1597.3 1282.4 1601 1282.2 1604.6 1282.6 1607.2 1281.2 1608.9 1282.5 1611.3 1284.3 1611.1 1287.1 1610.3 1290.5 1612.2 1292.8 1613.4 1295.7 1610.5 1295.4 1607.2 1296.7 1605 1297 1602.5 1298.7 1599.9 1298.8 1600 1301.4 1601.2 1304.7 1602 1307 1601.2 1309.6 1600.9 1312.9 1599.9 1315.3 1599 1318 1598.5 1320.6 1598.3 1323.5 1597.8 1325.7 1597 1327.6 1594.1 1329.4 1592.7 1330.8 1590.3 1332.2 1588.6 1333.1 1586.5 1334 1583.3 1335.3 1581.3 1337.1 1581.9 1339.4 1581.8 1342 1583.4 1344.3 1584.5 1346.8 1585.6 1348.7 1587 1351.5 1588.5 1353.6 1586 1355 1584.8 1356.9 1583.4 1358.8 1582 1360.4 1581.3 1362.9 1584 1363.2 1585.4 1364.8 1587.5 1366 1589.4 1368.2 1590.1 1371.5 1591.6 1374.3 1594.2 1374.9 1596.3 1373.3 1598.9 1373.3 1601.8 1374.5 1603.9 1376.1 1605.1 1378.5 1607.4 1377.3 1610.3 1377.3 1613.4 1377.4 1616.5 1376.2 1620 1376.4M1581.3 1362.9L1581.2 1365.6 1580 1368.6 1578.2 1371.2 1575.7 1373.4 1572.3 1374.1 1569.9 1375.4 1567.3 1377.3 1564.2 1378.3 1561.6 1378.5 1558.9 1379.6 1555.4 1379.5 1553.4 1382.3 1552.9 1384.3 1552.3 1387.8 1551.2 1390.2 1547.8 1392.2 1546.7 1394.4 1544 1396.1 1543.8 1399.2 1542.6 1402 1543.5 1405.6 1543 1408.5 1542.2 1411 1540.9 1413.3 1540 1416.8 1538.8 1418.8 1538.7 1421.9 1536.6 1424.8 1535.7 1428.3 1534.7 1431.3 1534.2 1433.8 1532.6 1436.7 1530.6 1439.1 1530 1441.3 1528.5 1443.7 1531.3 1445.6 1532.5 1448.2 1535.4 1449.7 1536.8 1452 1537 1454.5 1539.7 1457.2 1539.9 1460 1540.9 1462.3 1539.3 1465.1 1540.3 1467.7 1538.8 1470.6 1541.4 1472.1 1544 1472.7 1542.9 1475.6 1543.7 1478.3 1543 1481 1540.8 1483.2 1538.8 1484.5 1537.8 1487.2 1536.8 1490.1 1535.7 1492.6 1534.7 1495.4 1533.3 1497.9 1530.6 1500M1373.2 1346.4L1370.5 1346.6 1367.4 1347.1 1364.9 1347.4 1362.3 1349 1358.7 1348.9 1355.3 1350.9 1352.5 1351.6 1350.6 1354.3 1347.3 1355.7 1350.2 1357 1351.5 1358.8 1350.9 1362.1 1352 1364.6 1352.1 1367.6 1352.5 1370.2 1355.4 1371.1 1357.2 1370.9 1360.1 1371.4 1362.9 1371.2 1366 1371 1368.8 1371.5 1371.9 1370.6 1374.2 1370.2 1377.3 1368.2 1380.3 1367.3 1383.6 1367.1 1386.5 1366.3 1389.7 1367.1 1392.9 1366 1390 1366.8 1387.5 1368.2 1385.6 1370.2 1384.4 1373.3 1383.6 1376.4 1381.3 1376 1378.8 1378.1 1375.2 1377.3 1373.2 1378.5 1370.9 1379.9 1368 1380.2 1364.9 1381.2 1367.6 1381.7 1369.9 1383.9 1373.2 1384.7 1376.6 1386.4 1379.6 1386.9 1382.5 1388.8 1383.9 1390.8 1383.6 1394 1385.6 1395 1384.1 1397.3 1382.5 1399.2 1380.8 1397 1380.4 1394.5 1379.4 1393 1376.7 1392.6 1374.2 1391.9 1371.6 1391.7 1369.1 1391.5 1365.5 1391.8 1362.3 1390.7 1359.1 1391.4 1355.6 1390.9 1356.1 1392.8 1355.5 1396.1 1355.6 1398.1 1354.9 1400.7 1354.6 1402.3 1353 1404.2 1351.2 1406.6 1349.4 1409.5 1347.1 1411.4 1345 1411.6 1343.2 1413.7 1341.2 1415.1 1338 1415.7 1336.7 1418.4 1333.4 1420 1331.8 1423 1328.9 1424.4 1327.2 1425.6 1325.6 1428.2 1325.8 1430.9 1327.7 1433.1 1327.7 1435.4 1328.9 1437 1331.1 1438.6 1332.8 1440.6 1335.4 1440.3 1338 1439.5 1341.2 1440.1 1344.2 1439.5 1347.1 1438.8 1349.7 1439.3 1352.5 1438.5 1354.6 1439.9 1357.7 1439.5 1361 1438.5 1363.9 1438.5 1364.4 1440.8 1364.1 1443.6 1364.4 1446.5 1365 1449.2 1366 1452 1364.8 1449.8 1364 1447.1 1361.2 1445 1360.8 1442.7 1358.5 1441.6 1355.6 1441.6 1354 1444.4 1352.6 1447.7 1350.4 1449.9 1349.4 1452.7 1349.4 1455.1 1346.8 1454.3 1345.1 1452.2 1342.2 1450.9 1339.7 1451.1 1337.7 1453.2 1334.9 1453 1332.7 1454 1332 1456.4 1329.7 1458.2 1329.1 1460.5 1328.5 1463.9 1326.1 1465.6 1325.6 1468.5 1323.4 1470.9 1322.9 1474.1 1321.4 1476.8 1321.8 1478.8 1323.5 1479.9 1325.5 1480.7 1327.7 1482 1329.7 1483 1331 1486.1 1332.7 1488.2 1332.8 1491.3 1335.8 1492.6 1338 1495.4 1338 1498.3 1339 1500M1321.4 1476.8L1320.3 1479.8 1319.4 1482.2 1317.3 1485.1 1317.7 1488.5 1316.3 1491.3 1315 1494.5 1313.8 1496.6 1313.2 1500M1348.4 1500L1351.4 1497.9 1354.6 1497.5 1357.5 1496.2 1360.4 1496.2 1362.9 1495.4 1365 1493.4 1368 1492.3 1370.1 1492.2 1372.1 1490.3 1374.2 1489.2 1375.6 1486.6 1375.3 1483 1376.7 1481.4 1377.9 1478.9 1379.4 1476.8 1377.7 1473.7 1377.3 1470.6 1379.5 1469 1381.6 1468.7 1383.6 1466.5 1386.9 1466.9 1388.6 1465.7 1391.8 1465.4 1391.8 1463.6 1392.9 1461.3 1395.4 1462 1397.3 1463.9 1400.1 1465.4 1401.9 1468.1 1404.9 1468.9 1407.4 1471.6 1408.4 1474.4 1408.8 1476.9 1410.5 1478.9 1412.1 1480.7 1414.6 1483 1417.6 1482.2 1419.8 1482 1419.7 1478.5 1420.8 1475.8 1423.2 1473.8 1425 1471.6 1425.4 1468.6 1426 1465.4 1428.8 1466 1431.2 1465.4 1431.6 1467.5 1432.3 1470.3 1433.6 1473 1433.3 1475.8 1432.2 1478.4 1431.4 1480.4 1430.1 1482 1432.6 1482.4 1434 1483.6 1436.4 1485.1 1437.5 1487.8 1436.3 1490.2 1437.4 1493.4 1437.2 1496.1 1435.7 1497.9 1435.3 1500M1454 1500L1455.8 1499 1457.7 1497.9 1460.2 1496.5 1462.3 1497.7 1465.9 1497 1468.4 1498.6 1470.9 1497.4 1474 1498.4 1476.7 1497.5 1479.2 1498.5 1481.6 1499.7 1485 1499.6M1497.4 1500L1499 1498.2 1500.3 1495.7 1501.6 1492.5 1503.6 1491.3 1506.8 1490.9 1509.1 1488.9 1511.9 1489.2 1514.3 1490.8 1518 1491.3 1520.2 1493.4 1522.9 1494.9 1525.6 1497.7 1528.5 1498.6 1530.6 1500M1620 1376.4L1622.9 1376.9 1625.1 1377.5 1627.3 1379.5 1629 1381.8 1629.3 1384.1 1629.4 1386.7 1631.9 1387.8 1634.5 1389.8 1635.5 1392.4 1637.6 1395 1639.6 1396.8 1641.8 1398.1 1641.3 1400.5 1643.3 1403.4 1643.2 1406.1 1643.2 1408.4 1642 1410.5 1639.7 1412.6 1636.5 1413.6 1634.5 1415.7 1637.2 1417.8 1639.7 1417.8 1642.2 1418.4 1644.9 1420.5 1647 1418.8 1650.1 1417.8 1652.2 1418.9 1654.2 1418.8 1657.3 1417.4 1660.4 1417.1 1663.5 1417.7 1665 1419.1 1667.8 1419.2 1670.8 1419.8 1670.9 1422.9 1671.8 1425.1 1672.8 1427.1 1674.8 1426.4 1677 1427.1 1679.4 1427 1681.4 1425.6 1683.2 1424 1686.6 1422.2 1688.4 1419.8 1691.5 1420.5 1693.5 1419.6 1696.6 1419.8 1698.1 1416.9 1698.1 1414.4 1699.1 1411.6 1701.8 1409.5 1702.7 1413.1 1703.9 1415.7 1705 1418.3 1704 1420.8 1704.9 1422.9 1706.2 1425.5 1707.9 1427.6 1710.1 1429.2 1712.8 1431.3 1715.3 1431.6 1718.3 1430 1721.5 1430.2 1724.2 1430.4 1726.7 1428.7 1729.2 1428 1731.8 1429.2 1733.6 1430.7 1736 1432.3 1738.1 1433.6 1741.9 1433.3 1744.3 1434.3 1746.5 1433.8 1749.4 1434.3 1750.5 1431.8 1752.5 1429.2 1755.4 1429.2 1757.7 1427.9 1759.8 1428.1 1762.3 1426.6 1763.9 1424 1765.5 1421 1767 1418.8 1769.6 1418 1772.1 1419 1774.3 1417.8 1777.1 1418.4 1779.5 1419.8 1781.9 1422 1784.6 1424 1786 1422.6 1788.8 1421.9 1791.4 1420.7 1794 1417.8 1795.9 1417.7 1798.1 1416.7 1800.2 1415.9 1803.3 1415.7 1802.5 1413.8 1801.2 1411.6 1801 1408.3 1802.2 1405.3 1804.5 1403.2 1807.4 1401.2 1809.3 1400.2 1811.6 1400.2 1814.3 1398.1 1815.7 1396 1817.6 1397 1819.8 1398.1 1821.8 1396.4 1824 1396 1826.6 1396.9 1829.2 1399.1 1832.2 1400.3 1835.4 1401.2 1836.5 1403.2 1836.8 1406 1835.5 1409.3 1836.4 1411.6 1840 1412 1842.6 1413 1844.7 1411.1 1846.7 1409.5 1849.1 1408.7 1851.6 1406 1854 1405.3 1857.2 1406 1859.4 1407.3 1862.3 1408.4 1864.9 1410.4 1867.9 1409.7 1870.6 1411.6M1853.6 1198.3L1854.9 1201.7 1855 1204.5 1856.7 1207.1 1859.2 1209.7 1859.8 1211.9 1861.2 1214.7 1860.9 1217.3 1861.2 1220 1859.5 1223.2 1859.2 1226.3 1858.6 1229.3 1858.6 1232.3 1859.8 1235 1859.8 1237.6 1859.3 1240.3 1858.2 1243.5 1856.1 1245.9 1855.2 1248.5 1853.2 1250.1 1851.9 1253.2 1850.6 1256 1849.9 1259.4 1850.8 1262.3 1849.4 1264.8 1849.4 1268.5 1850.4 1271.4 1849.9 1273.9 1850.9 1276.2 1850.7 1278.8 1851.9 1281.8 1852.3 1284.2 1851.7 1285.7 1849.9 1287.3 1851.3 1289.9 1853.6 1291 1855 1293.5 1856 1296.6 1855 1300 1856.1 1302.9 1857.8 1305.4 1860.2 1306.7 1862.3 1309.1 1861.9 1312.1 1860.2 1314.2 1859.2 1316.1 1857.1 1318.4 1854.5 1319.8 1852.3 1320.5 1852.6 1322.9 1854.4 1325.3 1854 1327.7 1855.2 1329.1 1857.1 1330.8 1859.3 1332.2 1861.9 1332.5 1863.3 1333.9 1866 1334.9 1867.6 1332 1868.5 1329.8 1870.5 1328.2 1872.3 1327.9 1874.7 1326.7 1874.7 1324.2 1876.4 1321.5 1878.8 1319.9 1878.7 1317.5 1880.9 1316.3 1882.1 1314.3 1883 1312.2 1885.1 1313.4 1887.1 1314.2 1888.3 1316 1888.5 1319.7 1889.6 1321.5 1888.6 1324.3 1889.7 1326.6 1889.2 1328.7 1887.6 1330.8 1886.1 1333.9 1885.2 1336.4 1883.7 1339 1883 1342.2 1881.3 1344.8 1879.9 1347.4 1881.5 1350.4 1883 1352.5 1884.1 1355.8 1883.7 1358.4 1884 1361.9 1882.5 1364.6 1882.5 1367.8 1881.9 1371.2 1881.9 1374.8 1880.5 1377.4 1880.7 1380.5 1878.5 1382.5 1878.8 1385.7 1879.4 1388.4 1878.9 1391.8 1877.8 1394 1877.9 1396.5 1877 1399.9 1875.4 1401.3 1874.7 1404.3 1874.2 1407.1 1872.2 1409.7 1870.6 1411.6 1870.3 1413.8 1872.2 1416 1871.6 1418.8 1873.5 1420.2 1874.7 1422.9 1874.7 1426.3 1873.7 1429.2 1873.2 1432.2 1872 1434.2 1872.2 1436.9 1871.6 1439.5 1870.3 1442.4 1871.1 1445.4 1870.6 1448.8 1867.4 1449.2 1865.4 1450.9 1864.7 1447.4 1863.3 1444.4 1862.7 1441.6 1860.7 1439.7 1859.2 1436.4 1856.7 1438.4 1855 1440.5 1857.6 1442.2 1860.2 1443.6 1860.1 1446.3 1860.2 1449.9 1857.4 1451.3 1856.1 1453.3 1853 1454 1853.4 1457 1854 1460.2 1856.5 1462.3 1855.7 1464.6 1855.3 1467.8 1855 1470.6 1855.6 1473.3 1856.7 1475.3 1858.1 1477.8 1855.4 1478 1853 1479.9 1850.9 1481.4 1848.2 1483.1 1846.3 1485.5 1844.7 1487.1 1842.2 1486.3 1839.5 1487.1 1839.6 1490.1 1839.2 1493.2 1839 1496.8 1837.8 1499.5 1836.8 1502.7 1836.5 1505.3 1834.3 1507.8 1835.7 1509.8 1837.4 1509.9 1835.3 1511.9 1834.6 1513.8 1834.3 1516.1M1832.9 1512.6L1831 1514 1831.4 1517.3 1829.8 1519 1828.3 1520.4 1825.3 1521.7 1823.6 1524.3 1820.3 1524.5 1818.2 1523.2 1815.8 1522.7 1814.4 1526.2 1812 1526.6 1814.8 1528.5 1814.2 1530.9 1815.8 1532.8 1814.7 1534.5 1814.3 1536.7 1811.7 1534.9 1809.6 1535.9 1807 1535.1 1805.8 1532.3 1805 1530.5 1801.9 1531.2 1800.9 1533.9 1797.6 1535.8 1797.2 1539 1796.8 1540.9 1796.6 1543.4 1794.1 1545.2 1793 1548 1791 1549.1 1788 1549.4 1786.3 1552.2 1784.9 1550.7 1787.2 1546.8 1785.6 1545.2 1786.5 1542 1785.3 1539.9 1784.6 1536.9 1784 1534.2 1784.8 1531.2 1781.7 1531.7 1780.1 1534.3 1780.1 1536.7 1780.1 1539 1776.4 1539.9 1773.9 1540.6 1770.6 1538.9 1767.7 1538.2 1764.8 1537.4 1763 1539 1759.5 1537.9 1756.8 1538.2 1755.3 1540.1 1753.7 1541.3 1752.1 1538.7 1753.1 1536.4 1751.4 1534.3 1749.5 1536.6 1749.1 1538.2 1746 1539.6 1742.9 1539.8 1741 1537.6 1738.2 1537.5 1736.4 1536 1735.5 1533.4 1735.9 1530.5 1733 1531.3 1731.2 1529.7 1729.6 1530.6 1727.2 1530.9 1724.2 1529.4 1721.6 1528.8 1718 1530.5 1717 1533.8 1715.7 1535.9 1717.8 1537.5 1721.1 1537.5 1723.8 1540.5 1723.4 1543.7 1724.5 1546.4 1725.8 1547.5 1722.7 1547.9 1720.2 1548.8 1718 1549.9 1715.7 1549.9 1712.1 1551.7 1709.5 1551.4 1709.7 1549 1707.1 1546.8 1708.2 1544.1 1711 1542.1 1708.9 1538.8 1707.1 1536.7 1704.8 1539.5 1702.5 1539.8 1700.4 1539.8 1697 1539.8 1694.9 1540 1691.8 1540.7 1690.1 1540.6 1692.6 1540.8 1693.9 1543.7 1694.3 1546.1 1695.1 1549.1 1695.5 1551.4 1693.9 1553.8 1695.4 1554.5 1697.8 1556.1 1698.5 1557.2 1700.2 1559.2 1698.3 1562.1 1696.3 1563.9 1693.7 1565.3 1690.1 1565.4 1687.6 1566.2 1683.9 1565.1 1685.7 1567 1688.5 1569.3 1687.8 1571 1689.7 1574.1 1688.5 1576.3 1687.8 1579 1687.7 1582.5 1687.8 1586.3 1686.2 1588.7 1685.4 1591.3 1685.4 1594.1 1682.8 1594.1 1680.7 1591.8 1679.4 1589.7 1676.9 1587.1 1674.5 1586 1673 1585.6 1672.1 1582.9 1671.7 1580.8 1671.5 1578 1670.7 1574.7 1668.6 1572.6 1666.8 1573.2 1664.5 1575.2 1665.5 1577.8 1664 1579.4 1663.9 1582.1 1664.8 1584.9 1666 1587.1 1668.9 1586.9 1672.2 1589.5 1669.4 1588.8 1668.3 1590.2 1666.3 1588.1 1663.7 1587.1 1660.9 1585.8 1659 1586.4 1658.3 1583 1655.3 1581.6 1655.1 1577.8 1653.3 1577.1 1652 1575.5 1649.1 1577.4 1646.6 1577.8 1644.9 1580.6 1645.2 1583.7 1645.8 1587.1 1644.2 1586.3 1641.9 1587.1 1639.9 1588.4 1637 1589 1634.2 1590.2 1634.2 1587.8 1632.8 1585.4 1630.3 1583.3 1627.1 1583.2 1624.8 1581.7 1622.8 1581.2 1619.9 1581.4 1617.1 1581.7 1615.4 1579.6 1613.2 1577.8 1614.1 1576 1615.5 1573.2 1616.6 1570.4 1618.6 1570.1 1616.3 1567.3 1616.3 1564.6 1616 1562 1616.6 1560 1617.1 1557.6 1617.3 1554.6 1618.3 1550.7 1620.2 1548.3 1617.5 1548.6 1617.1 1546.8 1614.9 1548 1613.8 1551.9 1611.6 1553 1609.4 1553.2 1606.2 1553 1605.1 1555.9 1604.7 1557.6 1606.4 1560.1 1609.3 1560.7 1608 1563.1 1608 1564.5 1606.2 1567 1604.9 1568.8 1603.1 1571.6 1600 1572.4M1613.2 1580.9L1612 1582.8 1610 1583.5 1607.8 1585.6 1607.5 1587.8 1603.8 1590.8 1603.5 1592.2 1602.3 1595.7 1604.7 1598.3 1604.7 1601.1 1608.1 1600.6 1610.9 1600.3 1614 1601.4 1615.5 1602.7 1617.5 1601 1619.4 1600.9 1621.7 1599.6 1624.6 1601 1625.6 1602.7 1622 1602.4 1620.2 1604.2 1619.4 1607.4 1620.5 1609.9 1619.9 1613.5 1619 1617.2 1621.4 1620.2 1621 1622.9 1619.9 1624.5 1618.6 1627.5 1620.5 1628 1622.5 1629.8 1619.4 1630.3 1617.8 1631.5 1615.5 1633 1614.1 1631 1610.7 1631.7 1609.3 1629.8 1605.3 1629.6 1603.1 1631.4 1602.9 1628.4 1600.8 1626 1600.5 1622.7 1600.3 1619.1 1600 1616.6M1613.2 1588.7L1616.7 1590.1 1619.4 1590.2 1620 1592.1 1621.7 1594.9 1622.7 1597.4 1621 1600.3 1617.4 1598.7 1614.8 1598 1614 1595.2 1611.6 1594.1 1611.8 1591.1ZM1600 1608.9L1601.9 1606.7 1604.7 1605.8 1607.2 1603.5 1609.1 1603.5 1610.9 1600.3M1733.5 1553L1735.6 1555 1738 1555.3 1740.5 1556.1 1738.9 1558.6 1739.8 1560.7 1736.6 1561.5 1738.4 1563.7 1738.2 1567 1740.8 1568.5 1742.9 1571.6 1744 1574.4 1743.7 1576.4 1743.6 1579.4 1745.9 1581.2 1747.9 1582.7 1748.3 1584.8 1745.1 1585.7 1742.1 1587.1 1740.3 1589.2 1739 1588.7 1740.3 1591.8 1742.9 1593.4 1745 1592.6 1746.7 1591.8 1746.8 1594.2 1746 1598 1743.4 1600 1739.8 1600.3 1742.8 1600.1 1744.8 1602.2 1746.7 1602.7 1746 1606 1747.5 1608.9 1745.8 1607.6 1742.1 1607.8 1740.5 1605.8 1739 1604.1 1735.9 1604.2 1733.8 1606 1733.5 1608.9 1731.5 1611.5 1730.4 1613.5 1728.8 1616.1 1729.7 1618.2 1732.3 1619.7 1735.1 1620.3 1737.4 1619.8 1736.6 1622.9 1733.4 1623.6 1730.4 1622.9 1731.4 1625 1729.7 1627.5 1726.9 1627.3 1724.2 1629.8 1721.6 1630.1 1718 1629.8 1718 1627.4 1719.6 1625.2 1722.9 1623.5 1725.8 1624.4 1724 1623.8 1722.7 1621.3 1720.7 1619.9 1718.8 1618.2 1719 1615.1 1719.6 1613.5 1716.7 1612.2 1714.9 1613.5 1713.6 1612.8 1711 1612 1713.3 1611.1 1715.7 1608.9 1717.7 1607 1720.3 1604.2 1720.5 1601.5 1719.6 1598 1718 1595.5 1715.7 1595.7 1714 1597.4 1711.8 1600.3 1708.9 1601.6 1705.6 1601.1 1704.3 1602.3 1704 1604.2 1703.4 1601.2 1700.9 1599.6 1699.3 1598 1698.6 1594.9 1697.3 1592.1 1699.8 1589.7 1698.6 1587.9 1701.8 1586 1702.5 1583.3 1704.7 1581.8 1707.1 1580.2 1709.9 1581.9 1711.8 1582.5 1715 1582.1 1716.5 1583.3 1717.7 1584.8 1720.9 1584.4 1722.7 1587.1 1725.1 1587.6 1727.3 1585.6 1725.2 1583.1 1722.7 1582.5 1720.8 1580.8 1720.3 1577.8 1718.8 1576.8 1718 1573.9 1718.9 1571.5 1720.3 1570.1 1723.1 1570.1 1725.8 1570.1 1728.2 1568.3 1730.4 1567 1731 1565.2 1730.2 1562.3 1732 1560 1733.2 1557.3 1733.2 1554.8ZM1756.1 1548.3L1759.4 1547.9 1761.5 1546.8 1763 1549.8 1764.6 1551.4 1764.7 1554.2 1763.1 1557.8 1763 1560.7 1762 1561.9 1760.7 1563.9 1760.1 1561 1758.4 1559.2 1757.1 1556.1 1756.1 1553 1755.4 1550.8ZM1671.4 1600.3L1674.4 1601.1 1677.6 1598.8 1680.1 1599 1682.2 1599.3 1684.6 1599.6 1688.1 1601.4 1689.3 1604.2 1691 1606.4 1690.5 1608.9 1690.8 1612 1688.8 1614.9 1689.3 1617.4 1687.6 1618.9 1684.6 1617.4 1681.8 1615.8 1680.7 1612 1678.5 1611.2 1677.6 1608.9 1676.3 1607.4 1676.9 1604.2 1673.8 1602.3 1671.4 1603.4ZM1696.3 1604.2L1698.6 1603.3 1700.9 1605 1702.6 1606.5 1702.8 1609.6 1704 1612 1703.8 1614.5 1702.5 1616.6 1700.8 1617 1697.8 1617.4 1695.7 1615.2 1696 1612 1696.7 1609 1695.8 1607.5ZM1685.4 1594.1L1687.8 1592.6 1689.3 1588.7 1689.9 1585.6 1691.6 1583.3 1693.3 1584.2 1695.5 1585.6 1694.2 1588.1 1693.2 1591.8 1691.8 1594 1691.6 1598 1690 1600 1687 1599.6M1664.4 1575.5L1667.6 1574.9 1669.1 1573.2 1669 1575.7 1670 1577.7 1672.2 1579.4 1672.5 1581.7 1673 1584.8 1670.8 1585.5 1668.3 1587.1 1667.9 1584.4 1665.2 1582.5 1666.2 1579.9 1664.3 1577.6ZM1434.3 1498.3L1437.2 1498.2 1439.4 1499.4 1442.3 1498.8 1445.2 1501 1447.3 1500.9 1449.2 1498.4 1451.6 1496.4 1454.5 1496.3M1485.6 1498.3L1488.7 1499.8 1491.8 1500.4 1495.7 1499.4 1497.3 1498.4 1497.6 1494.4 1499.5 1493.2M1339 1500L1340.7 1501 1343.7 1499.7 1346.6 1501.3 1348.9 1500.5M1529.8 1496.3L1530.5 1499.1 1530.5 1501.4 1531.4 1503.3 1534 1504.7 1534.8 1508.6 1536.8 1511.1 1536.6 1514.8 1537.5 1517.2 1539.8 1519.1 1539.9 1521.9 1541.3 1524.2 1543 1525.6 1543.8 1528.1 1547.2 1529.8 1550.2 1531.5 1551.6 1534.3 1551.4 1536.8 1552.5 1539.5 1554.7 1542.1 1555.8 1544.2 1559.1 1546.4 1559.6 1550.1 1562.4 1551.4 1564.9 1552.6 1567.1 1556.1 1566.6 1558.5 1568.3 1561.5 1568.6 1563.9 1567.6 1565.9 1567.4 1569.7 1567.1 1571.6 1566.7 1574.2 1565.5 1576.3M1313.2 1500L1312.6 1502.1 1310 1504.6 1310.1 1508 1307.5 1507 1305.7 1508.8 1303.1 1509.5 1305.3 1512.3 1304.7 1514.9 1302.2 1517 1300 1517.3M1300 1521.1L1302.4 1522.8 1304.1 1522.7 1306.2 1524.3 1309 1524 1311.6 1524 1314 1521.9 1311.7 1523.1 1310.7 1526.6 1308.5 1528.1 1307.8 1531.2 1309.5 1533.7 1312.5 1535.1 1314 1539 1316.2 1540.9 1318.2 1543.5 1320.2 1546 1322.7 1546.2 1326.1 1546.8 1328.7 1548.3 1325.3 1550.8 1324.8 1553.8 1322.8 1555.3 1323.4 1558.3 1321.7 1560.7 1318.9 1561 1317.5 1561.4 1315.5 1563.9 1314.5 1566.2 1311.6 1566.2 1309.7 1569.1 1306.2 1570.1 1303.1 1571.8 1301.6 1573.2 1305 1573.4 1307.8 1573.9 1311 1575.1 1314.2 1574.9 1316.5 1576.1 1320.2 1575.5 1317.9 1578.4 1314.8 1578.6 1315.5 1581.9 1314.4 1585 1314 1587.1 1314 1589.6 1315.9 1591.4 1315.5 1594.9 1317.3 1597.7 1316 1602 1317.1 1604.2 1314.4 1606.4 1312.7 1609.3 1310.9 1612 1311.3 1615.1 1310.7 1617 1308.5 1619.8 1308.1 1622.4 1309.5 1624.8 1310.9 1627.5 1313.8 1626.3 1317.1 1626.7 1320.3 1627.3 1321.7 1627.4 1324.8 1627.5 1327.9 1626.3 1330.4 1626.8 1333.4 1628.3 1335.5 1628.8 1335.9 1632.5 1338 1633.7 1339.9 1635.8 1339.9 1637.9 1342.7 1639.9 1342.9 1643.2 1345 1644.6 1347.3 1646.9 1349.7 1648.5 1352 1650.7 1354.2 1651.9 1357.5 1652.4 1354.1 1652.9 1351.2 1651.6 1348.2 1649.9 1346.2 1649 1343.5 1649.3 1341 1647.9 1338.8 1648.5 1336.6 1650.3 1336.1 1652.7 1333.4 1653.9 1332.3 1655 1331.1 1657 1330 1659.6 1327.2 1662.5 1323 1661.3 1321.7 1658.6 1319.6 1659 1317.7 1656 1315.5 1655.5 1313.5 1657.3 1310.9 1657 1310 1654.8 1308.7 1651.9 1306.2 1649.3 1303.9 1646.7 1304.2 1644.7 1303.1 1641.5 1303.7 1639.3 1303.2 1636.9 1303.1 1633.7 1302.5 1631.2 1300.9 1630.4 1300 1627.5M1300 1534.3L1301.7 1536.8 1304.7 1539 1302.7 1541.9 1304.5 1543.9 1302.3 1546.8 1304.4 1547.5 1306.5 1550.7 1306.2 1553 1309.5 1551.5 1312.4 1551.4 1313.2 1554 1314.8 1555.1 1315.5 1557.6 1314.5 1559.2 1311.8 1559.3 1309.3 1560.7 1306.7 1559.5 1303.1 1559.6 1300 1557.6M1300 1573.2L1302.8 1574.3 1303.1 1577.5 1306.2 1579.4 1304.9 1581.7 1305 1585.5 1303.1 1588.7 1304.7 1591.5 1306.5 1593.3 1306.2 1596.5 1305.6 1598.9 1305.3 1601.6 1303.1 1604.2 1301 1605.1 1300 1605.8M1311.6 1635.3L1314.5 1635.7 1317.1 1633.7 1320.1 1633.4 1322.4 1636.3 1325.6 1636.8 1324.9 1638.9 1323.3 1641.5 1320.8 1642.4 1320.2 1644.6 1321.8 1646.5 1324.3 1647.9 1324.8 1650.8 1326.5 1654.1 1329.5 1655.5 1326.8 1654.2 1323.3 1653.9 1320.9 1651.8 1319.4 1650 1317.1 1647.7 1314.4 1647.2 1312.4 1644.6 1311.8 1641.4 1310.9 1638ZM1300 1666.3L1302.9 1666 1305.4 1667.9 1307.8 1667.9 1310.1 1670.4 1313.3 1670 1315.5 1672.5 1318.9 1671.6 1320.9 1672.5 1323.3 1673.3 1325.8 1675.6 1328.7 1675.7 1329.8 1673 1329.2 1670.2 1328 1667.9 1331 1667.8 1334.2 1668.7 1336.6 1667.9 1339.6 1665.9 1341.9 1664 1341.8 1665.8 1340.6 1667.9 1340.4 1671 1342.9 1673.2 1344.5 1675 1344.3 1677.2 1341.6 1677.5 1338.1 1678.8 1335.7 1678 1332.7 1680.1 1329.5 1680.3 1328.6 1682.9 1327.2 1686.5 1328.7 1688.4 1329.6 1692.2 1328.7 1694.3 1332 1695.6 1333.4 1697.4 1335.9 1698.8 1337.3 1701.3 1336.7 1704.3 1335.6 1705.6 1333.4 1708.3 1332.3 1711.2 1329.5 1712.9 1331.8 1713.1 1333.4 1716 1336.4 1716.9 1338.8 1718.4 1339.9 1721.3 1338.9 1724.4 1339.6 1726.9 1342.7 1725.3 1342.7 1723 1345.1 1722.2 1347.9 1723.7 1349.7 1722.2 1352.2 1724.3 1354.3 1724.6 1354.6 1721.9 1354.7 1718.5 1355.1 1716 1355.5 1714 1357.6 1711.7 1357.5 1708.3 1359.2 1705.7 1358.2 1703.6 1360.9 1701.6 1361.7 1699.8 1363.5 1698.2 1366.8 1697.4 1368.7 1696.2 1372.2 1695.4 1374.5 1693.5 1375.8 1691.1 1377.6 1688.9 1374 1689 1371.4 1688.1 1374 1686.3 1376.6 1685.3 1379.2 1685.7 1380.5 1684.2 1383.1 1682.6 1384.1 1681 1384.4 1678.3 1383.9 1675.7 1382.7 1673.9 1384.3 1671.1 1383.8 1668.3 1382.3 1665.6 1384.1 1662.9 1385.4 1660.1 1385.6 1657.1 1384.6 1653.9 1385.7 1652.4 1387.3 1650.8 1387.1 1653.7 1388.2 1656.5 1387.7 1658.6 1386.9 1661.5 1388.5 1664.2 1388.9 1666.7 1390.1 1668.7 1391.5 1672 1388.9 1675.6 1390.1 1678.8 1390 1681.5 1392.7 1684.1 1392.4 1688.1 1395.4 1689.6 1397 1692 1399 1693.8 1402.5 1695.1 1405.3 1693.6 1405.6 1691.2 1408.6 1692.7 1411.8 1692 1413.8 1690.9 1416.5 1688.9 1415.7 1685.5 1415.7 1682.6 1416.8 1686.2 1419.6 1687.3 1421.6 1684.3 1424.2 1683.4 1425 1681.1 1424.3 1677.4 1422.7 1675.7 1424.2 1674.3 1426 1670.9 1425.8 1668.7 1424.9 1665.6 1427.2 1664.6 1426.6 1661.7 1426.5 1659 1428.6 1656.3 1428.9 1653.9 1426.7 1653.7 1424.8 1654.1 1421.9 1653.1 1423.9 1652.6 1426.5 1651.3 1430.2 1651.9 1432 1651.6 1435 1649.5 1437.4 1647.7 1438.1 1644.4 1440.5 1643 1442.8 1641.5 1446 1639.9 1448 1638.8 1448.6 1635.4 1450.6 1634.5 1452.9 1636 1456.8 1635.3 1459.5 1635.2 1461.5 1633.7 1464 1631.7 1466 1627.9 1466.9 1625.2 1469.1 1622.7 1471.6 1622.1 1473.7 1624.6 1474.7 1626.7 1477.2 1626.6 1478.6 1627.5 1478.6 1631 1477 1633.7 1475.6 1635.3 1475.1 1638.7 1472.4 1639.9 1471.4 1642.9 1471.7 1645.6 1473.1 1647.7 1471.1 1650.7 1469.3 1652.4 1467.3 1654.1 1466.1 1655.9 1464.6 1658.6 1463.3 1660.4 1462.3 1662.5 1463.2 1660.3 1461.5 1658.2 1461.5 1655.5 1463.6 1653.4 1464.5 1651.4 1464.6 1647.7 1461.5 1648.5 1459.9 1650.8 1457.7 1652.6 1458.3 1656.3 1456.8 1658.6 1455.4 1661.2 1452.4 1662.2 1451.4 1664.8 1450.4 1667.6 1448.3 1668.7 1449 1672.4 1451.4 1674.1 1453.6 1674.6 1456.3 1672.8 1458.4 1674.1 1460.5 1673.7 1463.9 1673.2 1466.6 1673.6 1469.3 1674.9 1473 1676.2 1475.5 1677.2 1478.1 1678.3 1478.7 1679.8 1480.9 1681.9 1483.1 1682.9 1484.6 1685.6 1484.8 1688.1 1487.1 1689.9 1488.7 1692 1489.2 1690.1 1491.8 1689.6 1491.6 1687.9 1490.2 1685 1491.6 1683.3 1494.4 1682.9 1495.7 1680.3 1498.9 1680 1499 1677.8 1501.9 1677.2 1503.6 1674.2 1506.5 1672.5 1504.4 1671.5 1503.5 1669.1 1501.9 1666.3 1502.1 1664.3 1504.9 1662.4 1506.5 1660.9 1509.7 1660.2 1513.1 1660.4 1515.8 1660.1 1516.6 1657.9 1519.6 1657.9 1521.3 1655.5 1520.7 1651.6 1518.9 1649.3 1517.1 1646.5 1514.3 1644.6 1512.3 1642.5 1509.4 1641.3 1508.1 1638.4 1505.4 1637 1504.1 1635.3 1501.9 1633 1499.1 1632.4 1498.3 1630.9 1496.4 1628.3 1497.3 1625.4 1497.8 1624.4 1498 1621.3 1500 1620.9 1501.9 1618.2 1500.2 1614.7 1499.5 1612 1501.9 1609.8 1505 1608.9 1501.6 1607.5 1498.8 1606.6 1495.9 1605.8 1493.4 1606.3 1491.8 1604.2 1495.4 1604.2 1498.9 1603.7 1501.9 1605 1504.1 1605 1507.7 1604.1 1509.6 1602.7 1511.6 1602.8 1513.7 1600.5 1516.6 1600.3 1517.5 1597.1 1516.6 1594.9 1518.6 1592.8 1521.3 1593.4 1520.3 1596.1 1521.7 1599.3 1522.8 1601.1 1524.5 1603.8 1526.7 1605 1528.6 1606.8 1528.5 1608.7 1528.3 1612 1530.2 1614.9 1532.9 1616.6 1533.4 1619.4 1536 1622.1 1534.2 1625 1531.4 1627 1529.8 1629.1 1530.7 1632 1532.1 1633.8 1531.4 1636.8 1531.2 1639 1529.5 1642.2 1530.6 1644.6 1531.7 1648.7 1534.5 1650 1537.2 1647.5 1539.9 1646.9 1541.7 1649 1545.3 1650.8 1544.5 1648.2 1546.1 1644.6 1545.5 1642.3 1543.2 1640.1 1542.2 1636.8 1541.4 1634.3 1542.4 1630.8 1543.8 1629.1 1546.4 1627.4 1547 1622.3 1549.2 1620.5 1551.1 1621.7 1552.1 1624.7 1554.7 1626 1558.2 1626.8 1561 1624.7 1564 1626 1564.4 1622.9 1565.5 1620.9 1566.3 1618.2 1567 1615 1566.7 1612.3 1565.5 1610.4 1565.9 1607.7 1569.3 1605.8 1569.4 1602.7 1567.2 1600.1 1567.9 1598 1564.9 1598.7 1561.6 1598.8 1558.4 1599.9 1556.9 1601.2 1554.7 1602.7 1553.6 1604.5 1551.8 1606.4 1548.4 1607.3 1545.5 1606.9 1543.9 1603.9 1541.5 1602.7 1540.3 1600.9 1538.5 1597.6 1537 1596 1534.5 1594.9 1533.4 1592.1 1534.1 1590.1 1532.1 1587.1 1532.8 1584.9 1536 1584 1534.8 1581.2 1534.5 1578.4 1536 1576.3 1536.8 1579.6 1538.2 1582 1539.1 1585.6 1542.4 1584.9 1544.6 1585.2 1546.9 1587.1 1548.4 1584.8 1552.5 1584.9 1554.7 1582.5 1556.8 1580.5 1557.9 1579.1 1560.9 1578.6 1563.1 1577.6 1565.5 1576.3 1566.5 1577.9 1567.1 1579.4 1570.2 1577.5 1573.3 1577.8 1575.1 1575 1578 1573.2 1579.2 1575.3 1581.2 1577.3 1584.2 1577.8 1586.9 1575.1 1588.8 1573.9 1590.4 1570.1 1591.3 1566.9 1592.4 1565.8 1594.3 1563.9 1597 1566 1600 1567M1362.1 1706.7L1365.3 1706.1 1367.1 1705 1369.9 1703.6 1371.5 1705.7 1374.2 1706.1 1376.1 1708.3 1377.6 1710.6 1378.2 1714.1 1380 1716 1383.4 1716.4 1385.5 1717 1387 1719.1 1385.9 1722.3 1387.4 1725.2 1387.7 1728.4 1384.8 1728.7 1383.2 1727 1380.7 1728.4 1378.6 1726.2 1375.4 1725.8 1371.4 1725.3 1369.8 1722.7 1365.3 1722.7 1363.7 1719.9 1364.2 1716.3 1362.6 1712.6 1362.5 1710.3ZM1384.6 1703.6L1385.8 1700.9 1388.8 1699.7 1390.1 1696.6 1393.2 1696.6 1397 1696.6 1399.4 1695.8 1402.4 1697.1 1404 1697.1 1405.7 1699.1 1408.7 1700.5 1411.5 1700.5 1413.7 1699.5 1417.3 1700 1419.6 1700.5 1418.3 1702.3 1419.1 1706.4 1418.8 1708.3 1415.9 1709.8 1414.1 1711.7 1411.7 1714.5 1408.7 1716 1409.1 1719.5 1407.1 1722.2 1405.1 1724.9 1401.7 1723.9 1399.4 1726.1 1398.7 1723 1397.2 1722.1 1396.3 1719.1 1393.6 1720.1 1391.4 1718.6 1388.5 1719.9 1388.8 1717.5 1386.8 1714.6 1384.6 1712.9 1386.1 1709.4 1385.8 1706.1ZM1390.1 1706.7L1392.9 1707.2 1396.3 1705.6 1399.4 1705.2 1403.4 1705.4 1405.3 1706.5 1408.7 1708.3M1393.2 1712.9L1395.3 1712.6 1399.2 1713.1 1400.9 1714.5 1402.7 1714.7 1405.9 1715.7 1407.1 1717.6M1432 1690.4L1435.5 1688.8 1438.2 1689.6 1439.5 1691.3 1442 1693.3 1442.1 1695.8 1441 1698.5 1440.5 1702 1438.2 1701.7 1435.9 1698.9 1433.7 1696.5 1432.2 1694.4ZM1445.2 1686.5L1448.2 1686.2 1451 1685.9 1453.7 1683.4 1456 1683.5 1458.8 1683 1462.5 1681.4 1464.6 1681.9 1467.6 1681 1469.7 1682.4 1471.6 1683.4 1470.9 1686 1471.2 1690.4 1470 1692.7 1467.9 1693.5 1467.7 1696.6 1464.7 1696.4 1461.1 1697.7 1458.2 1698.3 1455.3 1697.4 1453.1 1697.8 1451 1696.9 1449.1 1694.3 1448.9 1690.7 1447.4 1688ZM1421.1 1719.1L1422.6 1715.7 1424.5 1715 1427.3 1712.9 1429.4 1712.4 1431.5 1709.3 1433.5 1708.3 1435.9 1711.2 1438.2 1712.9 1441.7 1713.5 1444.4 1712.1 1447.6 1714 1448.3 1717.6 1445.4 1718.5 1442.7 1718.2 1439.8 1719.1 1437.2 1719.5 1435.1 1722.2 1432.4 1723.8 1429.9 1722 1426.5 1723.6 1424.2 1724.6 1422 1721.6ZM1508.1 1671L1510.8 1670.8 1513 1668.9 1515.8 1669.4 1517.4 1672.8 1518.1 1675.2 1518.7 1678.5 1520.5 1680.3 1522.9 1681.7 1523.5 1685.3 1526.6 1686.2 1528.3 1689.6 1528.5 1692 1529.8 1694.8 1529 1696.6 1526.8 1698.6 1523.9 1699.5 1520.5 1699.7 1518.9 1696.1 1515.7 1696 1514.3 1692.7 1511.7 1690.4 1512.1 1686.8 1510.9 1685.1 1509.6 1681.9 1508.5 1678.6 1508.3 1676.1 1509 1673.2ZM1564 1643L1565.9 1642.2 1568.3 1642 1570.2 1639.9 1571.7 1642.5 1574.3 1642.2 1576.4 1644.6 1576.6 1647.1 1577.5 1649.5 1578.1 1653.5 1575.6 1656.2 1577.2 1658.6 1574.9 1659.7 1571 1660.1 1569.1 1658.2 1566.8 1657 1564 1657 1563 1655.3 1562 1652.6 1560.1 1650.8 1560 1647.6 1563.8 1646.7ZM1570.2 1639.9L1570.5 1637.2 1571.3 1635.4 1571 1632.2 1570.7 1629.6 1568.6 1627.4 1566.3 1626M1557 1670.2L1559.2 1669.9 1561.6 1668.1 1563.6 1666.6 1567.1 1666.3 1569.5 1668.8 1572.1 1670.6 1571.8 1673.7 1573.9 1677.1 1576.4 1678.8 1574 1680.3 1573.3 1681.9 1571.6 1680.6 1568.9 1679.4 1565.7 1678.6 1564 1677.2 1560.3 1675.7 1558.4 1673.7ZM1600 1607.3L1597.5 1606.8 1596 1604.6 1595 1602.7 1593.5 1599.7 1592.1 1598.1 1590.7 1594.7 1590.4 1591.8 1593 1589.3 1594.1 1586.5 1596.6 1585.6 1597 1582.3 1594.2 1580.4 1595 1577.8 1591.9 1579.6 1589.9 1579.6 1587.5 1579.4 1584.2 1579.4 1582.1 1582.1 1581.2 1584.8 1578 1587.1 1578.6 1590 1575.4 1591.8 1575.7 1595.3 1574.8 1598 1576.1 1601.2 1576.7 1603.1 1575.6 1606 1578 1608.9 1578.1 1612 1579.2 1614.4 1580.4 1616.6 1581.1 1619.8 1582.3 1621.9 1584 1624.5 1585.7 1626 1588.9 1626.3 1591.9 1626 1591.2 1623.2 1592.7 1621 1593.5 1618.2 1596.7 1618.6 1600 1619.8M1337.3 1759.5L1340.3 1757.5 1343 1755.7 1345 1753.3 1344.1 1749.8 1346.5 1748.4 1347.5 1744.8 1346.6 1742.4 1348.5 1741.5 1352.3 1741.1 1354.3 1742.4 1357.5 1744.6 1358.1 1747.4 1359.8 1750.2 1360.1 1753.6 1357.8 1756.4 1359 1759.5 1355.9 1758.9 1352.8 1758 1350.6 1760 1348.8 1762.7 1346.6 1764.2 1344.3 1765.2 1341.1 1766.4 1338.8 1767.3 1338.8 1764.6 1339.4 1762.4ZM1400.9 1753.3L1402.3 1751.1 1405.5 1748.9 1405.9 1745.6 1407.1 1744 1409.9 1745.7 1413.4 1745.5 1414.2 1748.7 1416.2 1750.6 1416.5 1753.3 1416.2 1756.2 1413.9 1756.9 1413.4 1759.5 1410.1 1759.2 1407.2 1759.4 1404 1759.5 1401.9 1757.2 1402.8 1754.8ZM1480.1 1627.5L1481.7 1625.5 1486.4 1625 1487.9 1622.9 1487.9 1624.8 1489.5 1627.8 1490.3 1629.6 1490.2 1633 1488.8 1635.9 1489.7 1638.2 1486.8 1639.6 1487.1 1643 1485.5 1643.8 1482.7 1641.7 1480.1 1643 1478.9 1640.1 1479.8 1636.2 1479.2 1633.9 1479.2 1630.4ZM1262.8 1539.2L1265.1 1537.5 1267.8 1538 1271.1 1538.4 1273.2 1538.8 1270.2 1539.4 1267.8 1541.7 1265.3 1543.8 1267 1546.3 1266.6 1549.2 1266.1 1551.2 1265.6 1552.8 1263.6 1554.5 1262.5 1557.3 1262 1558.7 1259.4 1558.5 1258.7 1559.9 1257.4 1558.7 1254.5 1557.8 1251.9 1557.7 1250.4 1557 1247.9 1554.9 1248.6 1552.6 1250.4 1552 1252.1 1550.7 1251.2 1548.7 1253.1 1548.3 1256.2 1548.3 1258.3 1547.3 1259.5 1544.6 1260.1 1541.5ZM1271.1 1548.7L1273.2 1547.3 1276.9 1546.3 1280.7 1548.2 1283.5 1547.5 1285.8 1547.9 1286.8 1548.7 1286.8 1546.4 1287.7 1543.8 1288.1 1539.9 1290.1 1538 1291.1 1536.2 1293.5 1537.1 1294.5 1538.6 1295.9 1539.6 1298.1 1541 1300.1 1540.5 1301.4 1537.6 1302.6 1536.3 1304.8 1535.8 1306.7 1534.7 1305.7 1537.7 1305.9 1541.3 1305.4 1544.6 1303.4 1546.3 1303.5 1549 1302.6 1550.4 1301.8 1552.3 1299.3 1552 1298.2 1553.4 1298.4 1556.2 1297.7 1559.4 1295.9 1561.2 1293.1 1560.1 1291 1559.5 1290.3 1561.8 1291.8 1563.6 1290.7 1566.1 1288.5 1566.5 1285.7 1567.4 1283.5 1567 1282.1 1564.5 1283.1 1562 1282.9 1560.8 1284.3 1558.7 1281.5 1558.9 1279.4 1557 1276.3 1557.8 1275.2 1556.2 1274.8 1554.2 1271.9 1553.7 1270.3 1552.1ZM1258.7 1569.4L1261 1569 1262.8 1566.1 1264.3 1565.6 1266.1 1564.5 1269.4 1564.7 1271.1 1565.3 1272 1568.2 1273.6 1569.4 1274.1 1572.6 1275.2 1575.2 1273.9 1577.6 1272.8 1578.6 1270.4 1578.4 1268.6 1579.4 1268.7 1582 1267 1582.7 1263.6 1583.1 1265.5 1581 1265.3 1578.6 1266.1 1576.5 1267.8 1575.2 1267.5 1572.7 1268.6 1571.1 1267.5 1569.6 1266.1 1568.6 1264.9 1569.5 1262.8 1571.1 1261.8 1569.3ZM1234.7 1598.4L1236.9 1597.7 1239.6 1597.6 1241.1 1595.1 1241.1 1593.1 1242.9 1591 1245.9 1589.8 1247.9 1588.5 1251 1589.1 1252.9 1589.3 1252.1 1586.9 1251.2 1584.3 1254.5 1584.8 1255.9 1585.9 1257.8 1587.7 1260.1 1589.2 1259.9 1591.8 1257.8 1592.9 1257 1595.1 1258.4 1596 1259.5 1597.6 1261.3 1596.4 1263.9 1598.1 1267 1596.8 1269.4 1598.1 1271.1 1600.9 1268.9 1603.9 1268.6 1606.7 1265.7 1606.1 1263.6 1607.5 1262.2 1610 1262.8 1612.5 1263.7 1614.8 1266.1 1615.8 1268.2 1613.7 1269.4 1612.5 1271.3 1614.2 1272.8 1616.6 1273.5 1620 1271.9 1622.4 1272.5 1625.4 1275.2 1627.4 1275.1 1630.2 1275.5 1631.8 1276.9 1634 1276.7 1637.4 1274.4 1639 1271.5 1638.7 1269.4 1639 1266.8 1636.7 1267 1634 1265.3 1635.8 1262.8 1634.9 1261.2 1634.2 1259.5 1633.2 1258.7 1630.8 1257.8 1629.1 1256.3 1626.2 1254.5 1625.8 1252.9 1623.3 1254.7 1622.3 1257 1622.4 1256.5 1619.4 1256.2 1616.6 1256.4 1613 1254.5 1610.8 1254.2 1608.7 1252.9 1605.9 1250.3 1606.4 1249.6 1605.1 1247.6 1603.1 1244.6 1602.6 1241.7 1601.6 1238 1601.3 1236.9 1599.3ZM1242.9 1600.1L1245.8 1601.9 1247.7 1601.8 1250.4 1601.7 1253.6 1600.4 1254.5 1598.4 1254.9 1596.3 1256.2 1594.3M1258.7 1600.1L1261.7 1601.8 1262.8 1604.2M1257.8 1616.6L1261.2 1618.3 1262.8 1620.8 1264.7 1623.7 1267.8 1624.1 1270.4 1626.1 1271.1 1629.1M1220.6 1622.4L1221.4 1620.1 1223.9 1619.1 1227.2 1618.5 1230.5 1620 1232.7 1618.6 1234.7 1615.8 1236.9 1614.4 1240.5 1613.3 1242.4 1615.2 1242.1 1616.6 1240.7 1619.8 1241.7 1622.4 1240.4 1625 1238 1625.8 1235.7 1626.4 1233.8 1627.4 1232.2 1628.7 1233 1631.6 1231.8 1634 1229.7 1635.7 1226.9 1636.7 1224.7 1635.7 1223.1 1635 1220.8 1632.9 1219.8 1630.7 1221.2 1628 1220.2 1624.7ZM1228.9 1625.8L1231.4 1625.9 1233.8 1624.1 1236.8 1622.6 1238 1620.8M1224.7 1635.7L1224.3 1638.5 1224.7 1640M1233.8 1629.1L1235.9 1631.3 1237.9 1633.2 1239.6 1634.9 1241.7 1635.5 1243.3 1637.8 1244.6 1640M1282.7 1602.6L1285.9 1601.5 1287.7 1600.9 1290.7 1598.8 1292.6 1596.8 1294.6 1595.6 1295.9 1593.5 1294.9 1590.7 1293.5 1589.3 1294.8 1587.5 1297.6 1586.8 1299.3 1584.3 1298.4 1581.6 1295.9 1579.4 1295.1 1576.9 1296.5 1574.1 1299.3 1572.8 1299.8 1574.4 1302.6 1574.4 1305.8 1573.7 1307.5 1571.1 1310.3 1573.1 1312.5 1575.2 1315.1 1573.8 1318.2 1575.3 1320.8 1575.2 1317.2 1575.6 1315.8 1577.7 1313.9 1580 1314.2 1583.5 1313.8 1586.4 1315.8 1589.3 1316.3 1592.5 1314.8 1593.2 1314.2 1595.9 1314.2 1598.2 1315.9 1600.7 1317.1 1602.7 1319.1 1605.1 1315.7 1607.1 1314.2 1609.2 1313.4 1611 1310.8 1612.5 1310.1 1610.8 1309.2 1609.2 1309.7 1607.1 1309.2 1604.2 1307.4 1601.8 1305.9 1600.9 1304.4 1602.1 1302.6 1600.1 1300.5 1599.6 1299.3 1601.7 1297.1 1602.8 1294.3 1603.4 1291.1 1604.4 1290.1 1606.7 1286.8 1606.4 1284.3 1605.1ZM1289.3 1640L1288.8 1637.5 1291.1 1635.6 1291 1633.2 1291.9 1630.3 1292.9 1627.9 1293.5 1624.1 1294.9 1622.3 1296.8 1623.3 1298.1 1624.8 1299.3 1626.6 1300.2 1628.9 1302.6 1629.9 1304.4 1633.2 1305.9 1635.7 1305.4 1638.3 1304.2 1640M1224.7 1635.5L1225.1 1638.4 1224.5 1639.7 1225.8 1642.8 1228.7 1644.8 1231.2 1646.5 1234.9 1647.4 1235.6 1645.1 1239.4 1644.5 1240 1642.8 1241.8 1640.5 1244.7 1638.6M1262.8 1648L1266.6 1647.2 1267.5 1645.5 1270.1 1643.3 1271.8 1645.2 1274.3 1644.5 1276.3 1646.9 1277.1 1649.6 1279.9 1651.1 1277.2 1652.3 1275.2 1652.9 1273.2 1654.7 1271 1655.9 1267.5 1656.5 1264.9 1656.7 1265.6 1653.7 1263.2 1650.5ZM1243.1 1652.1L1244.9 1653.3 1247.6 1651.8 1250.4 1652.1 1252.9 1653.7 1254.6 1654.5 1256.6 1655.2 1258.3 1657.5 1260.3 1660.6 1262.8 1662.4 1263.3 1665.7 1262.3 1668.6 1260.7 1670.7 1257.1 1672.2 1255.6 1673.5 1252.5 1675.9 1249 1674.8 1246.3 1675.9 1246.6 1672.7 1245.2 1669.6 1244.2 1666.6 1245.3 1663.4 1243.6 1661.4 1242.6 1658.3 1243.2 1654.4ZM1246.3 1655.2L1247 1657.6 1247.9 1660.8 1251.6 1662.3 1252.5 1665.5 1255.2 1667.6 1256.6 1669.7M1248.3 1654.2L1249.1 1656.7 1252.2 1658.2 1253.3 1660.2 1254.5 1663.5M1285.6 1662.4L1288.4 1664.1 1291.8 1663.5 1291.3 1666.6 1292.8 1668.7 1292.5 1672 1291.8 1674.9 1288.7 1673.5 1286.5 1673.3 1283.5 1673.8 1280.9 1676.5 1279.4 1679 1277 1679.7 1275.2 1681.1 1275.1 1684.9 1273.2 1687.3 1270.7 1689.1 1267.7 1690.4 1264.9 1690.4 1262.9 1692.8 1261.3 1693.9 1259.7 1696.6 1259.8 1699.2 1258.7 1701.8 1261.4 1702.9 1262.8 1707 1264.8 1708.5 1263.6 1711.1 1265.9 1713.2 1268.6 1712.4 1271.1 1714.2 1273 1715.1 1276.3 1716.3 1278.7 1715 1280.3 1712.9 1283.5 1712.1 1286.6 1710.5 1289.6 1709.7 1291.8 1708 1293.4 1707.1 1295.4 1705.7 1297 1702.8 1299.4 1701.8 1302.2 1701.5 1304.2 1702.8 1307 1699.9 1308.4 1697.6 1310.4 1694.6 1310.4 1691.4 1309.5 1689.2 1309.4 1686.3 1312.3 1685.8 1313.5 1683.1 1314 1680.4 1311.5 1678 1309.7 1674.4 1307.3 1672.8 1304.9 1672.8 1304.2 1670.7 1302 1670.5 1300.1 1670.7 1299.7 1669.2 1298 1667.6 1296 1665.3 1293.9 1665.5 1291.4 1667.3 1288.7 1666.6 1287.6 1663.4ZM1244.7 1727.7L1245.6 1725.1 1248.3 1722.5 1251.5 1724.1 1254.5 1724.6 1257.7 1724.4 1259.7 1724.6 1261.5 1727.6 1259.2 1729.7 1261.3 1732.8 1258.2 1731.9 1256.3 1732.8 1254.5 1733.9 1252.6 1731.5 1249.4 1732.8 1248.3 1730.8 1246.6 1729.4ZM1308.4 1796L1311 1795.5 1311.5 1797.2 1308.9 1797.5ZM1297.5 1805.8L1300.9 1805.7 1303.2 1807.4 1306.7 1807.1 1308.4 1805.8 1306.4 1806.7 1306.4 1811.1 1304.2 1812 1302.2 1810.5 1300.3 1808.3ZM1272.3 1943L1274 1940.9 1275.9 1939.4 1277.7 1938.2 1280 1937.3 1282.4 1935.3 1283.1 1933.2 1284.9 1931.6 1285.7 1929.1 1284.2 1927.5 1285.5 1930.2 1286.2 1932.2 1288 1931 1290.4 1929.1 1291 1926.9 1292.4 1924.9 1291.4 1922.3 1293.7 1920.8 1295.5 1919.8 1297.7 1919.3 1299.2 1918.2 1300.2 1915.1 1302.7 1914.9 1304.9 1914.6 1306.9 1912.5 1310 1912 1312.6 1910 1315.2 1909.9 1318.3 1911 1319.8 1909.3 1322.5 1908.9 1324.6 1907.5 1327.6 1907.3 1330.7 1906.6 1332.9 1904.7 1334.9 1903.2 1337.2 1902.5 1340.1 1903.2 1343.6 1902.5 1346.3 1901.1 1349 1901.4 1352 1901.1 1354.6 1899 1357.1 1897.8 1359.7 1898 1361.1 1897 1362.8 1894.9 1365.9 1895.4 1368 1895.9 1371.5 1896 1374.2 1894.4 1376.6 1892.9 1379.4 1892.8 1381.8 1893.3 1384.6 1892.3 1387.7 1891.8 1389.7 1892.8 1392.9 1893.4 1395.2 1892.3 1398 1892.8 1399 1895.1 1398.6 1897 1400.7 1898.5 1403.2 1900.6 1406.1 1901.2 1408.4 1900.1 1410.5 1900.4 1412.5 1902.2 1413.6 1905.3 1411.5 1906.3 1412.3 1907.9 1414.6 1908.4 1414.7 1910.2 1413 1911.5 1415.6 1913.5 1417.8 1914.9 1419.8 1914.6 1419.7 1916.4 1417.7 1917.7 1418.3 1919.8 1418.7 1921.8 1416.7 1923.9 1414.6 1924.9 1413.8 1927.2 1413.6 1930.1 1412 1931.3 1410.5 1933.2 1409.5 1934.6 1407.3 1935.3 1405.4 1937.7 1405.3 1940.5 1403.8 1942.9 1402.2 1944.6 1402.2 1947.7 1400.5 1949.1 1399.1 1950.8 1396.4 1952 1393.9 1951.3 1391.4 1952 1388.7 1951.8 1387.4 1953.4 1384.9 1954.8 1383.5 1956.5 1380.4 1956 1377.1 1956.6 1374.2 1958.1 1372.1 1957.8 1370 1959.4 1367 1959.1 1364.7 1959.4 1363.9 1960.6 1362.2 1962.4 1359.7 1964.3 1358.3 1965.8 1356.6 1966.9 1354.5 1966.1 1352.5 1965.3 1350.4 1966.5 1348.3 1965.8 1345.5 1967 1343.7 1965.6 1341.1 1966.3 1339.6 1968.2 1338 1968.4 1335.2 1969.8 1331.8 1970 1329.5 1968.2 1328.7 1966.3 1326.3 1966 1324.5 1967.4 1322.1 1966 1319.4 1965.3 1317 1966.4 1314.2 1967.9 1311.4 1966.5 1309 1966.9 1306.3 1966.6 1303.8 1966.3 1301 1968.7 1298.7 1970.5 1297.6 1973.6 1298.7 1976.2 1297.1 1977 1294.5 1977.2 1291.4 1976.7 1289.6 1974.5 1289.3 1972.5 1287.8 1970.1 1285.2 1967.4 1283.2 1967.7 1281.1 1966.3 1278.9 1964.3 1276.9 1963.2 1275.8 1960.6 1274.3 1959.1 1273.7 1956.4 1272.8 1953.9 1273.1 1950.4 1273 1947.7 1272.6 1945.5ZM1419.8 1901.1L1422.9 1900.6 1424.5 1903.3 1426 1906.3 1424.2 1908.2 1423.9 1909.9 1422.3 1908.4 1419.8 1908.4 1419.2 1906 1419.3 1904.2ZM1292.4 1981.9L1294 1981.9 1294 1983.4 1292.4 1983.4ZM1291.9 1993.3L1293.5 1993.3 1293.5 1994.8 1291.9 1994.8ZM2088.9 980.7L2091.6 979.4 2093.9 978.6 2097.4 977 2099.8 977.6 2103.2 975.7 2105.2 974.7 2108.3 973.8 2109.9 974.4 2111.7 975.6 2110.4 978.4 2110.9 982.3 2112 985.3 2112.7 988 2110.1 989.1 2108.4 990.5 2105.7 991.9 2104.5 994.5 2101.7 994.4 2098.7 993.5 2096 991.2 2092.8 990.6 2091.8 988.8 2090.2 986.7 2088.6 984ZM2277.8 1029.2L2280 1031.2 2282.4 1031.6M1656.8 1160L1659.7 1160.7 1662 1162 1665.1 1162.1 1668 1161.5 1671.3 1160 1674.2 1160.9 1677.5 1160M1638.1 1160L1639.2 1161 1640.2 1160M1179.9 760.9L1176.9 760.4 1174.7 758.5 1173 757.1 1171.5 755.1 1170 752.5 1168.1 749.7 1166.5 747.8 1164.3 747.2 1162.3 750.3 1161.7 753.8 1159.4 755.9 1157.9 754.3 1156.9 752.2 1155 750.1 1154.2 746.7 1151.9 744.7 1149.5 745.1 1146.6 744.5 1144.5 743.5 1142.1 746.1 1139.5 747.2 1136.6 746.2 1133.3 745.3 1130.5 746.9 1129.5 749.5 1127.1 750.9 1124.5 751.8 1122.1 754.7 1123.1 757.5 1122.1 760.2 1121.4 757.3 1120.1 754.7 1118.4 752.2 1116 752.8 1113.4 751.6 1111.1 752.9 1108 754.7 1105.4 755.4 1102.2 755.9 1101.7 753.5 1099.8 750.9 1099.5 754.8 1101.3 757.4 1101 760.9 1098.2 760.1 1096 759.6 1094.6 757.3 1093.7 754.1 1092.3 750.9 1089.9 751.7 1088 752.2 1088.3 754.8 1090.5 757.3 1091.1 759.6 1093.2 760M1109.7 722.4L1111.1 725.3 1113.2 727.2 1114.7 729.8 1112.6 731.3 1110.6 734.2 1108.4 736" fill="none" stroke="#000" stroke-width="2.6" stroke-linejoin="round" stroke-linecap="round"/>
<rect x="333.5" y="362.4" width="1978" height="1979.9" fill="none" stroke="#262626" stroke-width="2.8"/>
<path d="M333.5 2132.4h4.5M2311.5 2132.4h-4.5M333.5 1926.9h4.5M2311.5 1926.9h-4.5M333.5 1721.5h4.5M2311.5 1721.5h-4.5M333.5 1516h4.5M2311.5 1516h-4.5M333.5 1310.6h4.5M2311.5 1310.6h-4.5M333.5 1105.1h4.5M2311.5 1105.1h-4.5M333.5 899.7h4.5M2311.5 899.7h-4.5M333.5 694.2h4.5M2311.5 694.2h-4.5M333.5 488.8h4.5M2311.5 488.8h-4.5M748.5 2342.3v-4.5M748.5 362.4v4.5M1159.4 2342.3v-4.5M1159.4 362.4v4.5M1570.3 2342.3v-4.5M1570.3 362.4v4.5M1981.2 2342.3v-4.5M1981.2 362.4v4.5" stroke="#262626" stroke-width="2.8" fill="none"/>
<path d="M336.4 2321.3V2340M336 2338.9H354.7M336.4 363V383.7M336 366h3.5M2290 2339h20" stroke="#262626" stroke-width="1.1" fill="none"/>
<text transform="translate(305.6 2366.2) scale(0.98 1)" text-anchor="end" font-size="73" fill="#262626">0</text>
<text transform="translate(305.6 2160.8) scale(0.98 1)" text-anchor="end" font-size="73" fill="#262626">100</text>
<text transform="translate(305.6 1955.3) scale(0.98 1)" text-anchor="end" font-size="73" fill="#262626">200</text>
<text transform="translate(305.6 1749.9) scale(0.98 1)" text-anchor="end" font-size="73" fill="#262626">300</text>
<text transform="translate(305.6 1544.4) scale(0.98 1)" text-anchor="end" font-size="73" fill="#262626">400</text>
<text transform="translate(305.6 1339) scale(0.98 1)" text-anchor="end" font-size="73" fill="#262626">500</text>
<text transform="translate(305.6 1133.5) scale(0.98 1)" text-anchor="end" font-size="73" fill="#262626">600</text>
<text transform="translate(305.6 928.1) scale(0.98 1)" text-anchor="end" font-size="73" fill="#262626">700</text>
<text transform="translate(305.6 722.6) scale(0.98 1)" text-anchor="end" font-size="73" fill="#262626">800</text>
<text transform="translate(305.6 517.2) scale(0.98 1)" text-anchor="end" font-size="73" fill="#262626">900</text>
<text transform="translate(334.7 2442.3) scale(0.98 1)" text-anchor="middle" font-size="73" fill="#262626">0</text>
<text transform="translate(748.5 2442.3) scale(0.98 1)" text-anchor="middle" font-size="73" fill="#262626">200</text>
<text transform="translate(1159.4 2442.3) scale(0.98 1)" text-anchor="middle" font-size="73" fill="#262626">400</text>
<text transform="translate(1570.3 2442.3) scale(0.98 1)" text-anchor="middle" font-size="73" fill="#262626">600</text>
<text transform="translate(1981.2 2442.3) scale(0.98 1)" text-anchor="middle" font-size="73" fill="#262626">800</text>
<text transform="translate(1321.4 2539.7) scale(0.943 1)" text-anchor="middle" font-size="80" fill="#262626">[x1km]</text>
<text transform="translate(130 1353.5) rotate(-90) scale(0.943 1)" text-anchor="middle" font-size="80" fill="#262626">[x1km]</text>
<text x="1321.8" y="320.6" text-anchor="middle" font-size="77" font-weight="bold" fill="#000" textLength="1475.5" lengthAdjust="spacingAndGlyphs">RR [mm/hr] (202211211330, #:656)</text>
<text x="1673.8" y="2163.8" font-size="77" fill="#000" textLength="416.7" lengthAdjust="spacingAndGlyphs">CVMAE:0.0</text>
<text x="1673.8" y="2277.3" font-size="77" fill="#000" textLength="304.6" lengthAdjust="spacingAndGlyphs">Max:1.3</text>
<rect x="2355.7" y="361.5" width="88.6" height="60.7" fill="#333333"/>
<rect x="2355.7" y="421.6" width="88.6" height="60.7" fill="#7f00bf"/>
<rect x="2355.7" y="481.7" width="88.6" height="60.7" fill="#9200e4"/>
<rect x="2355.7" y="541.8" width="88.6" height="60.7" fill="#ad07ff"/>
<rect x="2355.7" y="601.9" width="88.6" height="60.7" fill="#c23eff"/>
<rect x="2355.7" y="661.9" width="88.6" height="60.7" fill="#c584ff"/>
<rect x="2355.7" y="722" width="88.6" height="60.7" fill="#b30000"/>
<rect x="2355.7" y="782.1" width="88.6" height="60.7" fill="#bc0d0f"/>
<rect x="2355.7" y="842.2" width="88.6" height="60.7" fill="#c91f25"/>
<rect x="2355.7" y="902.3" width="88.6" height="60.7" fill="#d9343e"/>
<rect x="2355.7" y="962.4" width="88.6" height="60.7" fill="#e84a56"/>
<rect x="2355.7" y="1022.5" width="88.6" height="60.7" fill="#f65e67"/>
<rect x="2355.7" y="1082.6" width="88.6" height="60.7" fill="#ff6e6e"/>
<rect x="2355.7" y="1142.6" width="88.6" height="60.7" fill="#ff8051"/>
<rect x="2355.7" y="1202.7" width="88.6" height="60.7" fill="#ff8b1b"/>
<rect x="2355.7" y="1262.8" width="88.6" height="60.7" fill="#ff9c00"/>
<rect x="2355.7" y="1322.9" width="88.6" height="60.7" fill="#ffaa09"/>
<rect x="2355.7" y="1383" width="88.6" height="60.7" fill="#ffbc1e"/>
<rect x="2355.7" y="1443.1" width="88.6" height="60.7" fill="#ffd039"/>
<rect x="2355.7" y="1503.2" width="88.6" height="60.7" fill="#ffe256"/>
<rect x="2355.7" y="1563.3" width="88.6" height="60.7" fill="#fff26e"/>
<rect x="2355.7" y="1623.3" width="88.6" height="60.7" fill="#008000"/>
<rect x="2355.7" y="1683.4" width="88.6" height="60.7" fill="#00a400"/>
<rect x="2355.7" y="1743.5" width="88.6" height="60.7" fill="#00d500"/>
<rect x="2355.7" y="1803.6" width="88.6" height="60.7" fill="#1ef269"/>
<rect x="2355.7" y="1863.7" width="88.6" height="60.7" fill="#69fc69"/>
<rect x="2355.7" y="1923.8" width="88.6" height="60.7" fill="#0077ff"/>
<rect x="2355.7" y="1983.9" width="88.6" height="60.7" fill="#008dff"/>
<rect x="2355.7" y="2044" width="88.6" height="60.7" fill="#07abff"/>
<rect x="2355.7" y="2104" width="88.6" height="60.7" fill="#3ec1ff"/>
<rect x="2355.7" y="2164.1" width="88.6" height="60.7" fill="#87d9ff"/>
<rect x="2355.7" y="2224.2" width="88.6" height="60.7" fill="#e0e0e0"/>
<rect x="2355.7" y="2284.3" width="88.6" height="60.1" fill="#ffffff"/>
<path d="M2444.3 421.6h-21M2444.3 481.7h-21M2444.3 541.8h-21M2444.3 601.9h-21M2444.3 661.9h-21M2444.3 722h-21M2444.3 782.1h-21M2444.3 842.2h-21M2444.3 902.3h-21M2444.3 962.4h-21M2444.3 1022.5h-21M2444.3 1082.6h-21M2444.3 1142.6h-21M2444.3 1202.7h-21M2444.3 1262.8h-21M2444.3 1322.9h-21M2444.3 1383h-21M2444.3 1443.1h-21M2444.3 1503.2h-21M2444.3 1563.3h-21M2444.3 1623.3h-21M2444.3 1683.4h-21M2444.3 1743.5h-21M2444.3 1803.6h-21M2444.3 1863.7h-21M2444.3 1923.8h-21M2444.3 1983.9h-21M2444.3 2044h-21M2444.3 2104h-21M2444.3 2164.1h-21M2444.3 2224.2h-21M2444.3 2284.3h-21" stroke="#262626" stroke-width="2.8" fill="none"/>
<rect x="2355.7" y="361.5" width="88.6" height="1982.9" fill="none" stroke="#262626" stroke-width="2.9"/>
<text transform="translate(2470.3 386.1) scale(0.98 1)" text-anchor="start" font-size="65" fill="#262626">100</text>
<text transform="translate(2470.3 446.2) scale(0.98 1)" text-anchor="start" font-size="65" fill="#262626">90</text>
<text transform="translate(2470.3 506.3) scale(0.98 1)" text-anchor="start" font-size="65" fill="#262626">80</text>
<text transform="translate(2470.3 566.4) scale(0.98 1)" text-anchor="start" font-size="65" fill="#262626">70</text>
<text transform="translate(2470.3 626.5) scale(0.98 1)" text-anchor="start" font-size="65" fill="#262626">60</text>
<text transform="translate(2470.3 686.5) scale(0.98 1)" text-anchor="start" font-size="65" fill="#262626">50</text>
<text transform="translate(2470.3 746.6) scale(0.98 1)" text-anchor="start" font-size="65" fill="#262626">45</text>
<text transform="translate(2470.3 806.7) scale(0.98 1)" text-anchor="start" font-size="65" fill="#262626">40</text>
<text transform="translate(2470.3 866.8) scale(0.98 1)" text-anchor="start" font-size="65" fill="#262626">35</text>
<text transform="translate(2470.3 926.9) scale(0.98 1)" text-anchor="start" font-size="65" fill="#262626">30</text>
<text transform="translate(2470.3 987) scale(0.98 1)" text-anchor="start" font-size="65" fill="#262626">25</text>
<text transform="translate(2470.3 1047.1) scale(0.98 1)" text-anchor="start" font-size="65" fill="#262626">20</text>
<text transform="translate(2470.3 1107.2) scale(0.98 1)" text-anchor="start" font-size="65" fill="#262626">18</text>
<text transform="translate(2470.3 1167.2) scale(0.98 1)" text-anchor="start" font-size="65" fill="#262626">16</text>
<text transform="translate(2470.3 1227.3) scale(0.98 1)" text-anchor="start" font-size="65" fill="#262626">14</text>
<text transform="translate(2470.3 1287.4) scale(0.98 1)" text-anchor="start" font-size="65" fill="#262626">12</text>
<text transform="translate(2470.3 1347.5) scale(0.98 1)" text-anchor="start" font-size="65" fill="#262626">10</text>
<text transform="translate(2470.3 1407.6) scale(0.98 1)" text-anchor="start" font-size="65" fill="#262626">9.0</text>
<text transform="translate(2470.3 1467.7) scale(0.98 1)" text-anchor="start" font-size="65" fill="#262626">8.0</text>
<text transform="translate(2470.3 1527.8) scale(0.98 1)" text-anchor="start" font-size="65" fill="#262626">7.0</text>
<text transform="translate(2470.3 1587.9) scale(0.98 1)" text-anchor="start" font-size="65" fill="#262626">6.0</text>
<text transform="translate(2470.3 1647.9) scale(0.98 1)" text-anchor="start" font-size="65" fill="#262626">5.0</text>
<text transform="translate(2470.3 1708) scale(0.98 1)" text-anchor="start" font-size="65" fill="#262626">4.0</text>
<text transform="translate(2470.3 1768.1) scale(0.98 1)" text-anchor="start" font-size="65" fill="#262626">3.0</text>
<text transform="translate(2470.3 1828.2) scale(0.98 1)" text-anchor="start" font-size="65" fill="#262626">2.0</text>
<text transform="translate(2470.3 1888.3) scale(0.98 1)" text-anchor="start" font-size="65" fill="#262626">1.5</text>
<text transform="translate(2470.3 1948.4) scale(0.98 1)" text-anchor="start" font-size="65" fill="#262626">1.0</text>
<text transform="translate(2470.3 2008.5) scale(0.98 1)" text-anchor="start" font-size="65" fill="#262626">0.8</text>
<text transform="translate(2470.3 2068.6) scale(0.98 1)" text-anchor="start" font-size="65" fill="#262626">0.6</text>
<text transform="translate(2470.3 2128.6) scale(0.98 1)" text-anchor="start" font-size="65" fill="#262626">0.4</text>
<text transform="translate(2470.3 2188.7) scale(0.98 1)" text-anchor="start" font-size="65" fill="#262626">0.2</text>
<text transform="translate(2470.3 2248.8) scale(0.98 1)" text-anchor="start" font-size="65" fill="#262626">0.1</text>
<text transform="translate(2470.3 2308.9) scale(0.98 1)" text-anchor="start" font-size="65" fill="#262626">0.0</text>
<text transform="translate(2470.3 2369) scale(0.98 1)" text-anchor="start" font-size="65" fill="#262626">&lt;</text>
<text transform="translate(2261.4 327.8) scale(0.945 1)" text-anchor="start" font-size="65" fill="#000">[mmh</text>
<text transform="translate(2443.2 300.5) scale(0.7 1)" text-anchor="start" font-size="52" fill="#000">−</text>
<text transform="translate(2477.5 300.5) scale(0.96 1)" text-anchor="start" font-size="52" fill="#000">1</text>
<text transform="translate(2507.7 327.8) scale(1 1)" text-anchor="start" font-size="65" fill="#000">]</text>
</svg>
</body></html>
